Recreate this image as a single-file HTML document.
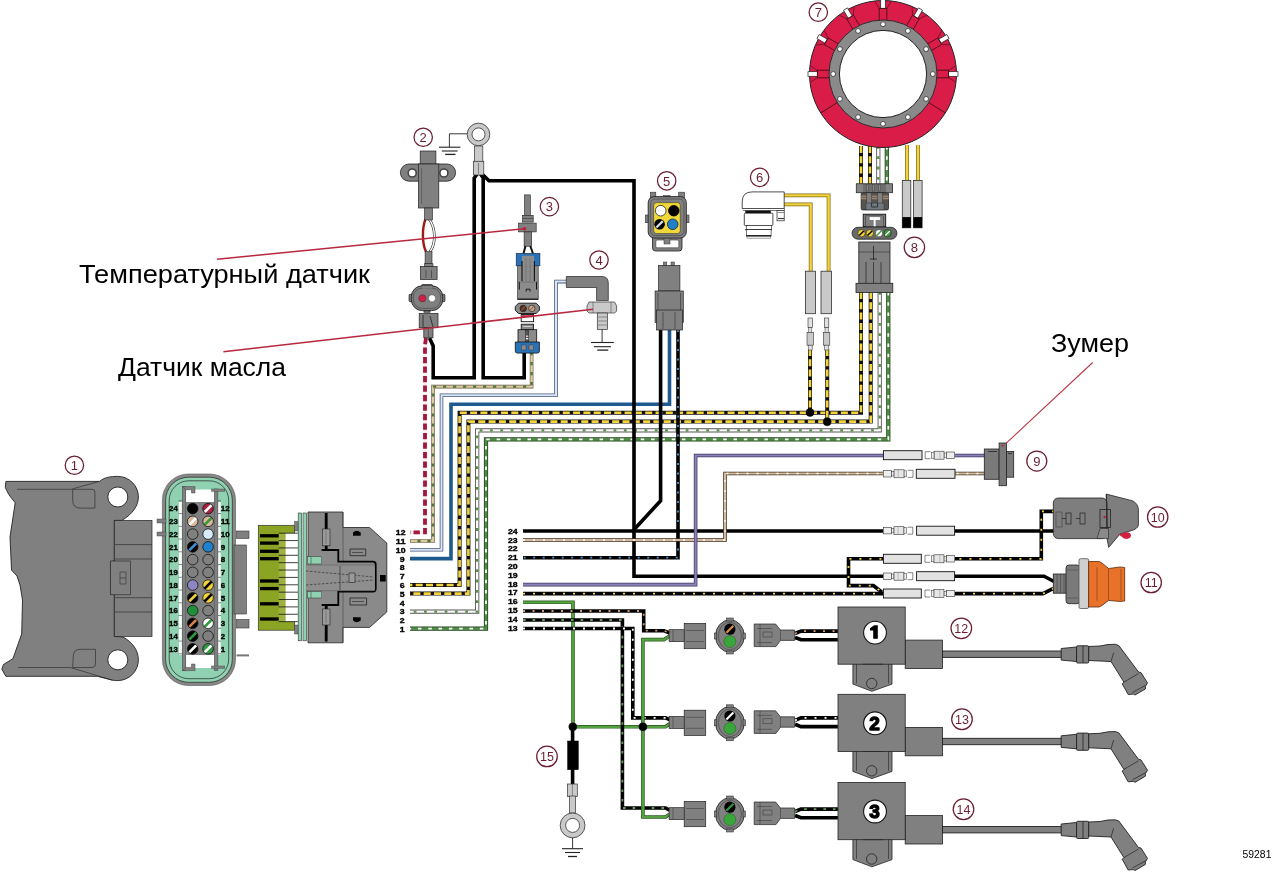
<!DOCTYPE html>
<html><head><meta charset="utf-8"><style>
html,body{margin:0;padding:0;background:#fff;}
body{width:1280px;height:872px;overflow:hidden;position:relative;font-family:"Liberation Sans",sans-serif;}
svg{position:absolute;left:0;top:0;will-change:transform;}
svg text{font-family:"Liberation Sans",sans-serif;}
</style></head><body>
<svg width="1280" height="872" viewBox="0 0 1280 872">
<polyline points="426,338 425,345 425,532.3 410,532.3" fill="none" stroke="#f6f0f0" stroke-width="3.8000000000000003" stroke-linejoin="miter" stroke-linecap="butt"/>
<polyline points="426,338 425,345 425,532.3 410,532.3" fill="none" stroke="#a5173c" stroke-width="3.8000000000000003" stroke-linejoin="miter" stroke-linecap="butt" stroke-dasharray="6.3 3.2"/>
<polyline points="531.6,352 531.6,386.6 433,386.6 433,541 410,541" fill="none" stroke="#6a5540" stroke-width="3.6" stroke-linejoin="miter" stroke-linecap="butt"/>
<polyline points="531.6,352 531.6,386.6 433,386.6 433,541 410,541" fill="none" stroke="#dccaa2" stroke-width="2.4000000000000004" stroke-linejoin="miter" stroke-linecap="butt"/>
<polyline points="531.6,352 531.6,386.6 433,386.6 433,541 410,541" fill="none" stroke="#4d7a3c" stroke-width="2.4000000000000004" stroke-linejoin="miter" stroke-linecap="butt" stroke-dasharray="3.2 6.8"/>
<polyline points="566,281.6 556,281.6 556,395.3 441.5,395.3 441.5,549.7 410,549.7" fill="none" stroke="#4a5a78" stroke-width="3.6" stroke-linejoin="miter" stroke-linecap="butt"/>
<polyline points="566,281.6 556,281.6 556,395.3 441.5,395.3 441.5,549.7 410,549.7" fill="none" stroke="#d8e6f6" stroke-width="2.0" stroke-linejoin="miter" stroke-linecap="butt"/>
<polyline points="669.5,330 669.5,404.2 451,404.2 451,558.6 410,558.6" fill="none" stroke="#1e5a8e" stroke-width="3.6" stroke-linejoin="miter" stroke-linecap="butt"/>
<polyline points="861,292 861,412.8 459.6,412.8 459.6,585 410,585" fill="none" stroke="#111" stroke-width="4.0" stroke-linejoin="miter" stroke-linecap="butt"/>
<polyline points="861,292 861,412.8 459.6,412.8 459.6,585 410,585" fill="none" stroke="#f4d43c" stroke-width="2.6" stroke-linejoin="miter" stroke-linecap="butt" stroke-dasharray="7 3.3"/>
<polyline points="870.7,292 870.7,421.6 468.4,421.6 468.4,593.6 410,593.6" fill="none" stroke="#111" stroke-width="4.0" stroke-linejoin="miter" stroke-linecap="butt"/>
<polyline points="870.7,292 870.7,421.6 468.4,421.6 468.4,593.6 410,593.6" fill="none" stroke="#f4d43c" stroke-width="2.6" stroke-linejoin="miter" stroke-linecap="butt" stroke-dasharray="7 3.3"/>
<polyline points="879.7,292 879.7,430.4 477.2,430.4 477.2,611.6 410,611.6" fill="none" stroke="#555" stroke-width="4.2" stroke-linejoin="miter" stroke-linecap="butt"/>
<polyline points="879.7,292 879.7,430.4 477.2,430.4 477.2,611.6 410,611.6" fill="none" stroke="#ffffff" stroke-width="2.4000000000000004" stroke-linejoin="miter" stroke-linecap="butt"/>
<polyline points="879.7,292 879.7,430.4 477.2,430.4 477.2,611.6 410,611.6" fill="none" stroke="#5a8f4a" stroke-width="2.4000000000000004" stroke-linejoin="miter" stroke-linecap="butt" stroke-dasharray="2.8 7.5"/>
<polyline points="888.3,292 888.3,439.4 486,439.4 486,628.6 410,628.6" fill="none" stroke="#1f3f18" stroke-width="4.2" stroke-linejoin="miter" stroke-linecap="butt"/>
<polyline points="888.3,292 888.3,439.4 486,439.4 486,628.6 410,628.6" fill="none" stroke="#4f8a46" stroke-width="2.8" stroke-linejoin="miter" stroke-linecap="butt"/>
<polyline points="888.3,292 888.3,439.4 486,439.4 486,628.6 410,628.6" fill="none" stroke="#ffffff" stroke-width="1.8" stroke-linejoin="miter" stroke-linecap="butt" stroke-dasharray="3.5 6.8"/>
<polyline points="429.5,338 433.2,346 433.2,377.7 474.2,377.7 474.2,178 478,173" fill="none" stroke="#000" stroke-width="3.6" stroke-linejoin="miter" stroke-linecap="butt"/>
<polyline points="480,173 483.2,178 483.2,377.7 524.2,377.7 524.2,352" fill="none" stroke="#000" stroke-width="3.6" stroke-linejoin="miter" stroke-linecap="butt"/>
<polyline points="482,174 489,180.8 634,180.8 634,576.2 1044,576.2 1054,581.5" fill="none" stroke="#000" stroke-width="3.6" stroke-linejoin="miter" stroke-linecap="butt"/>
<polyline points="660.6,330 660.6,500.7 634.6,529" fill="none" stroke="#000" stroke-width="3.6" stroke-linejoin="miter" stroke-linecap="butt"/>
<polyline points="678,330 678,557.7 523,557.7" fill="none" stroke="#000" stroke-width="3.6" stroke-linejoin="miter" stroke-linecap="butt"/>
<polyline points="678,330 678,557.7 523,557.7" fill="none" stroke="#4f8fcf" stroke-width="1.8" stroke-linejoin="miter" stroke-linecap="butt" stroke-dasharray="2 7.5"/>
<polyline points="523,531 1054,531" fill="none" stroke="#000" stroke-width="3.6" stroke-linejoin="miter" stroke-linecap="butt"/>
<polyline points="523,540 725,540 725,473.5 985,473.5" fill="none" stroke="#3a2a1a" stroke-width="3.6" stroke-linejoin="miter" stroke-linecap="butt"/>
<polyline points="523,540 725,540 725,473.5 985,473.5" fill="none" stroke="#d6bb9c" stroke-width="2.2" stroke-linejoin="miter" stroke-linecap="butt"/>
<polyline points="523,540 725,540 725,473.5 985,473.5" fill="none" stroke="#fff" stroke-width="1.3" stroke-linejoin="miter" stroke-linecap="butt" stroke-dasharray="2 8"/>
<polyline points="523,584.6 695.6,584.6 695.6,455.5 985,455.5" fill="none" stroke="#3a3560" stroke-width="3.6" stroke-linejoin="miter" stroke-linecap="butt"/>
<polyline points="523,584.6 695.6,584.6 695.6,455.5 985,455.5" fill="none" stroke="#8a82b8" stroke-width="2.2" stroke-linejoin="miter" stroke-linecap="butt"/>
<polyline points="523,593.6 1043,593.6 1053.4,588.4" fill="none" stroke="#000" stroke-width="3.6" stroke-linejoin="miter" stroke-linecap="butt"/>
<polyline points="523,593.6 1043,593.6 1053.4,588.4" fill="none" stroke="#f2d43a" stroke-width="1.8" stroke-linejoin="miter" stroke-linecap="butt" stroke-dasharray="2 8"/>
<polyline points="1054,511.4 1041.3,511.4 1041.3,558.8 848.5,558.8 848.5,585.6 873.4,585.6 882,592.2" fill="none" stroke="#000" stroke-width="3.6" stroke-linejoin="miter" stroke-linecap="butt"/>
<polyline points="1054,511.4 1041.3,511.4 1041.3,558.8 848.5,558.8 848.5,585.6 873.4,585.6 882,592.2" fill="none" stroke="#f2d43a" stroke-width="1.8" stroke-linejoin="miter" stroke-linecap="butt" stroke-dasharray="2 8"/>
<polyline points="523,602.3 573,602.3 573,726.8 665.6,726.8 669.5,723.8" fill="none" stroke="#2a5a22" stroke-width="3.6" stroke-linejoin="miter" stroke-linecap="butt"/>
<polyline points="523,602.3 573,602.3 573,726.8 665.6,726.8 669.5,723.8" fill="none" stroke="#55a040" stroke-width="2.2" stroke-linejoin="miter" stroke-linecap="butt"/>
<polyline points="523,611 643.7,611 643.7,630.7 664,630.7 669.5,633" fill="none" stroke="#000" stroke-width="3.6" stroke-linejoin="miter" stroke-linecap="butt"/>
<polyline points="523,611 643.7,611 643.7,630.7 664,630.7 669.5,633" fill="none" stroke="#d49a70" stroke-width="1.8" stroke-linejoin="miter" stroke-linecap="butt" stroke-dasharray="2 7.5"/>
<polyline points="523,620 622.4,620 622.4,808 665.6,808 669.5,810.3" fill="none" stroke="#000" stroke-width="3.6" stroke-linejoin="miter" stroke-linecap="butt"/>
<polyline points="523,620 622.4,620 622.4,808 665.6,808 669.5,810.3" fill="none" stroke="#6a9a62" stroke-width="1.8" stroke-linejoin="miter" stroke-linecap="butt" stroke-dasharray="2.6 7"/>
<polyline points="523,628.5 632.8,628.5 632.8,717.9 665.6,717.9 669.5,719.6" fill="none" stroke="#000" stroke-width="3.6" stroke-linejoin="miter" stroke-linecap="butt"/>
<polyline points="523,628.5 632.8,628.5 632.8,717.9 665.6,717.9 669.5,719.6" fill="none" stroke="#ffffff" stroke-width="1.8" stroke-linejoin="miter" stroke-linecap="butt" stroke-dasharray="2 8"/>
<polyline points="669.5,636 664,639.6 642.9,639.6 642.9,817 665.6,817 669.5,814.2" fill="none" stroke="#2a5a22" stroke-width="3.6" stroke-linejoin="miter" stroke-linecap="butt"/>
<polyline points="669.5,636 664,639.6 642.9,639.6 642.9,817 665.6,817 669.5,814.2" fill="none" stroke="#55a040" stroke-width="2.2" stroke-linejoin="miter" stroke-linecap="butt"/>
<polyline points="861,146 861,184" fill="none" stroke="#111" stroke-width="4.0" stroke-linejoin="miter" stroke-linecap="butt"/>
<polyline points="861,146 861,184" fill="none" stroke="#f4d43c" stroke-width="2.6" stroke-linejoin="miter" stroke-linecap="butt" stroke-dasharray="7 3.3"/>
<polyline points="870,146 870,184" fill="none" stroke="#111" stroke-width="4.0" stroke-linejoin="miter" stroke-linecap="butt"/>
<polyline points="870,146 870,184" fill="none" stroke="#f4d43c" stroke-width="2.6" stroke-linejoin="miter" stroke-linecap="butt" stroke-dasharray="7 3.3"/>
<polyline points="878.3,146 878.3,184" fill="none" stroke="#555" stroke-width="4.2" stroke-linejoin="miter" stroke-linecap="butt"/>
<polyline points="878.3,146 878.3,184" fill="none" stroke="#ffffff" stroke-width="2.4000000000000004" stroke-linejoin="miter" stroke-linecap="butt"/>
<polyline points="878.3,146 878.3,184" fill="none" stroke="#5a8f4a" stroke-width="2.4000000000000004" stroke-linejoin="miter" stroke-linecap="butt" stroke-dasharray="2.8 7.5"/>
<polyline points="886.8,146 886.8,184" fill="none" stroke="#1f3f18" stroke-width="4.2" stroke-linejoin="miter" stroke-linecap="butt"/>
<polyline points="886.8,146 886.8,184" fill="none" stroke="#4f8a46" stroke-width="2.8" stroke-linejoin="miter" stroke-linecap="butt"/>
<polyline points="886.8,146 886.8,184" fill="none" stroke="#ffffff" stroke-width="1.8" stroke-linejoin="miter" stroke-linecap="butt" stroke-dasharray="3.5 6.8"/>
<polyline points="907,145 907,182" fill="none" stroke="#7a6a18" stroke-width="3.8000000000000003" stroke-linejoin="miter" stroke-linecap="butt"/>
<polyline points="907,145 907,182" fill="none" stroke="#f4d23a" stroke-width="2.4000000000000004" stroke-linejoin="miter" stroke-linecap="butt"/>
<polyline points="918,145 918,182" fill="none" stroke="#7a6a18" stroke-width="3.8000000000000003" stroke-linejoin="miter" stroke-linecap="butt"/>
<polyline points="918,145 918,182" fill="none" stroke="#f4d23a" stroke-width="2.4000000000000004" stroke-linejoin="miter" stroke-linecap="butt"/>
<polyline points="784,195.4 828.6,195.4 828.6,272" fill="none" stroke="#7a6a18" stroke-width="3.8000000000000003" stroke-linejoin="miter" stroke-linecap="butt"/>
<polyline points="784,195.4 828.6,195.4 828.6,272" fill="none" stroke="#f4d23a" stroke-width="2.4000000000000004" stroke-linejoin="miter" stroke-linecap="butt"/>
<polyline points="784,204.4 810.7,204.4 810.7,272" fill="none" stroke="#7a6a18" stroke-width="3.8000000000000003" stroke-linejoin="miter" stroke-linecap="butt"/>
<polyline points="784,204.4 810.7,204.4 810.7,272" fill="none" stroke="#f4d23a" stroke-width="2.4000000000000004" stroke-linejoin="miter" stroke-linecap="butt"/>
<polyline points="810,349 810,412.8" fill="none" stroke="#111" stroke-width="4.0" stroke-linejoin="miter" stroke-linecap="butt"/>
<polyline points="810,349 810,412.8" fill="none" stroke="#f4d43c" stroke-width="2.6" stroke-linejoin="miter" stroke-linecap="butt" stroke-dasharray="7 3.3"/>
<polyline points="827.2,349 827.2,421.6" fill="none" stroke="#111" stroke-width="4.0" stroke-linejoin="miter" stroke-linecap="butt"/>
<polyline points="827.2,349 827.2,421.6" fill="none" stroke="#f4d43c" stroke-width="2.6" stroke-linejoin="miter" stroke-linecap="butt" stroke-dasharray="7 3.3"/>
<circle cx="810" cy="412.5" r="4" fill="#000" stroke="#000" stroke-width="0.5"/>
<circle cx="827.2" cy="421.8" r="4" fill="#000" stroke="#000" stroke-width="0.5"/>
<polyline points="572.6,726.6 572.6,786" fill="none" stroke="#000" stroke-width="3.6" stroke-linejoin="miter" stroke-linecap="butt"/>
<circle cx="572.8" cy="726.8" r="4" fill="#000" stroke="#000" stroke-width="0.5"/>
<circle cx="642.9" cy="726.8" r="4" fill="#000" stroke="#000" stroke-width="0.5"/>
<circle cx="74.4" cy="465.2" r="9.2" fill="none" stroke="#6a1e30" stroke-width="1.25"/>
<text x="74.4" y="469.9" font-size="13" text-anchor="middle" fill="#6a1e30" font-family="Liberation Sans, sans-serif">1</text>
<path d="M5.9,481.4 L99.6,481.4 C104,477.5 110,476.4 117.8,476.4 A20.6,20.6 0 0 1 138.4,497 C138.4,506 132,514 124,519 L121.9,520.4 L114.3,520.4 L114.3,636.4 L123,637 C132,642 138.4,650 138.4,659.8 A20.8,20.8 0 0 1 117.8,680.6 C115,680.6 113.5,680.4 112.5,680.2 L97.3,676.3 L5.9,676.3 L1.8,669.2 L3.5,664.5 L12.9,658.7 L21.7,634 L22.5,600 L20,585 L17,576 L11.5,570 L10,537 L15.2,502.8 L8.8,494.6 L5.3,487.6 Z" fill="#808080" stroke="#222" stroke-width="0.9" />
<circle cx="117.8" cy="497" r="10" fill="#fff" stroke="#222" stroke-width="0.9"/>
<circle cx="117.8" cy="659.8" r="10" fill="#fff" stroke="#222" stroke-width="0.9"/>
<path d="M72.7,489.3 L92,489.3 Q94.9,489.3 94.9,492 L94.9,508.1 L80,508.1 Q72.7,508.1 72.7,500 Z" fill="#808080" stroke="#222" stroke-width="0.6" />
<path d="M72.7,667.5 L92,667.5 Q95.5,667.5 95.5,664 L95.5,649.3 L80,649.3 Q73.2,649.3 73.2,657 Z" fill="#808080" stroke="#222" stroke-width="0.6" />
<line x1="17" y1="489.3" x2="72.7" y2="489.3" stroke="#222" stroke-width="0.6"/>
<line x1="72.7" y1="488.8" x2="99.6" y2="481.4" stroke="#222" stroke-width="0.6"/>
<line x1="18.2" y1="667.5" x2="70.3" y2="667.5" stroke="#222" stroke-width="0.6"/>
<line x1="70.3" y1="667.5" x2="112.5" y2="680.2" stroke="#222" stroke-width="0.6"/>
<rect x="114.3" y="520.4" width="37.7" height="116.0" rx="0" fill="#808080" stroke="#222" stroke-width="0.7"/>
<line x1="115" y1="544.6" x2="152" y2="544.6" stroke="#222" stroke-width="0.6"/>
<line x1="115" y1="559" x2="152" y2="559" stroke="#222" stroke-width="0.6"/>
<line x1="115" y1="597.7" x2="152" y2="597.7" stroke="#222" stroke-width="0.6"/>
<line x1="115" y1="612" x2="152" y2="612" stroke="#222" stroke-width="0.6"/>
<path d="M115,560.4 L110.4,562 L110.4,593 L115,594.8 Z" fill="#808080" stroke="#222" stroke-width="0.6" />
<rect x="110.4" y="561" width="20.099999999999994" height="33.799999999999955" rx="0" fill="#808080" stroke="#222" stroke-width="0.6"/>
<rect x="120" y="572" width="6" height="12" rx="0" fill="#808080" stroke="#222" stroke-width="0.5"/>
<line x1="120" y1="578" x2="126" y2="578" stroke="#222" stroke-width="0.5"/>
<rect x="162.4" y="474" width="73.1" height="211.5" rx="26" fill="#888888" stroke="#555" stroke-width="0.6"/>
<rect x="165.6" y="477.2" width="66.70000000000002" height="205.09999999999997" rx="23" fill="#8fd1b0" stroke="#222" stroke-width="0.7"/>
<rect x="169.2" y="480.8" width="59.5" height="197.90000000000003" rx="19.5" fill="none" stroke="#222" stroke-width="0.7"/>
<rect x="236.5" y="531" width="12.5" height="7.399999999999977" rx="0" fill="#808080" stroke="#333" stroke-width="0.6"/>
<rect x="236.5" y="619.6" width="12.5" height="8.399999999999977" rx="0" fill="#808080" stroke="#333" stroke-width="0.6"/>
<rect x="234" y="545" width="12.300000000000011" height="69" rx="0" fill="#808080" stroke="#333" stroke-width="0.6"/>
<line x1="236.5" y1="655.4" x2="249" y2="655.4" stroke="#777" stroke-width="2"/>
<rect x="157" y="519" width="9" height="4" rx="0" fill="#808080" stroke="#333" stroke-width="0.4"/>
<rect x="157" y="532" width="9" height="4" rx="0" fill="#808080" stroke="#333" stroke-width="0.4"/>
<rect x="178.9" y="502" width="2.9000000000000057" height="153" rx="0" fill="#fff" stroke="none" stroke-width="0"/>
<rect x="217.9" y="502" width="2.799999999999983" height="153" rx="0" fill="#fff" stroke="none" stroke-width="0"/>
<line x1="178.5" y1="500.8" x2="182" y2="500.8" stroke="#333" stroke-width="0.6"/>
<line x1="217.5" y1="500.8" x2="221" y2="500.8" stroke="#333" stroke-width="0.6"/>
<line x1="178.5" y1="513.55" x2="182" y2="513.55" stroke="#333" stroke-width="0.6"/>
<line x1="217.5" y1="513.55" x2="221" y2="513.55" stroke="#333" stroke-width="0.6"/>
<line x1="178.5" y1="526.3" x2="182" y2="526.3" stroke="#333" stroke-width="0.6"/>
<line x1="217.5" y1="526.3" x2="221" y2="526.3" stroke="#333" stroke-width="0.6"/>
<line x1="178.5" y1="539.05" x2="182" y2="539.05" stroke="#333" stroke-width="0.6"/>
<line x1="217.5" y1="539.05" x2="221" y2="539.05" stroke="#333" stroke-width="0.6"/>
<line x1="178.5" y1="551.8" x2="182" y2="551.8" stroke="#333" stroke-width="0.6"/>
<line x1="217.5" y1="551.8" x2="221" y2="551.8" stroke="#333" stroke-width="0.6"/>
<line x1="178.5" y1="564.55" x2="182" y2="564.55" stroke="#333" stroke-width="0.6"/>
<line x1="217.5" y1="564.55" x2="221" y2="564.55" stroke="#333" stroke-width="0.6"/>
<line x1="178.5" y1="577.3" x2="182" y2="577.3" stroke="#333" stroke-width="0.6"/>
<line x1="217.5" y1="577.3" x2="221" y2="577.3" stroke="#333" stroke-width="0.6"/>
<line x1="178.5" y1="590.05" x2="182" y2="590.05" stroke="#333" stroke-width="0.6"/>
<line x1="217.5" y1="590.05" x2="221" y2="590.05" stroke="#333" stroke-width="0.6"/>
<line x1="178.5" y1="602.8" x2="182" y2="602.8" stroke="#333" stroke-width="0.6"/>
<line x1="217.5" y1="602.8" x2="221" y2="602.8" stroke="#333" stroke-width="0.6"/>
<line x1="178.5" y1="615.55" x2="182" y2="615.55" stroke="#333" stroke-width="0.6"/>
<line x1="217.5" y1="615.55" x2="221" y2="615.55" stroke="#333" stroke-width="0.6"/>
<line x1="178.5" y1="628.3" x2="182" y2="628.3" stroke="#333" stroke-width="0.6"/>
<line x1="217.5" y1="628.3" x2="221" y2="628.3" stroke="#333" stroke-width="0.6"/>
<line x1="178.5" y1="641.05" x2="182" y2="641.05" stroke="#333" stroke-width="0.6"/>
<line x1="217.5" y1="641.05" x2="221" y2="641.05" stroke="#333" stroke-width="0.6"/>
<line x1="178.5" y1="653.8" x2="182" y2="653.8" stroke="#333" stroke-width="0.6"/>
<line x1="217.5" y1="653.8" x2="221" y2="653.8" stroke="#333" stroke-width="0.6"/>
<rect x="185.8" y="489.5" width="28.599999999999994" height="12.5" rx="0" fill="#fff" stroke="none" stroke-width="0"/>
<rect x="185.8" y="655" width="28.599999999999994" height="13" rx="0" fill="#fff" stroke="none" stroke-width="0"/>
<rect x="185.8" y="502" width="28.599999999999994" height="153" rx="0" fill="#808080" stroke="none" stroke-width="0"/>
<rect x="182.3" y="486.6" width="3.5" height="184.0" rx="0" fill="#808080" stroke="#444" stroke-width="0.5"/>
<rect x="214.4" y="489" width="3.5" height="181.60000000000002" rx="0" fill="#808080" stroke="#444" stroke-width="0.5"/>
<path d="M182.3,486.6 L195,486.6 L195,493 L191.5,493 L191.5,489.8 L185.8,489.8 Z" fill="#808080" stroke="#444" stroke-width="0.5" />
<rect x="211.6" y="489" width="13.200000000000017" height="2.3999999999999773" rx="0" fill="#808080" stroke="#444" stroke-width="0.4"/>
<path d="M182.3,670.6 L195,670.6 L195,664 L191.5,664 L191.5,667.4 L185.8,667.4 Z" fill="#808080" stroke="#444" stroke-width="0.5" />
<rect x="211.6" y="666" width="13.200000000000017" height="2.3999999999999773" rx="0" fill="#808080" stroke="#444" stroke-width="0.4"/>
<defs><clipPath id="pc"><circle cx="0" cy="0" r="5.3"/></clipPath></defs>
<g transform="translate(192.7,508.6)">
<circle r="5.3" fill="#000"/>
<circle r="5.3" fill="none" stroke="#111" stroke-width="0.8"/></g>
<g transform="translate(208.1,508.6)">
<circle r="5.3" fill="#a8213f"/>
<line x1="-6" y1="6" x2="6" y2="-6" stroke="#fff" stroke-width="2.6" clip-path="url(#pc)"/>
<circle r="5.3" fill="none" stroke="#111" stroke-width="0.8"/></g>
<text x="177.8" y="511.40000000000003" font-size="7.8" font-weight="bold" text-anchor="end" textLength="8.80" lengthAdjust="spacingAndGlyphs" fill="#000" stroke="#000" stroke-width="0.35">24</text>
<text x="220.8" y="511.40000000000003" font-size="7.8" font-weight="bold" text-anchor="start" textLength="8.80" lengthAdjust="spacingAndGlyphs" fill="#000" stroke="#000" stroke-width="0.35">12</text>
<g transform="translate(192.7,521.35)">
<circle r="5.3" fill="#d9b89e"/>
<line x1="-6" y1="6" x2="6" y2="-6" stroke="#fff" stroke-width="2.6" clip-path="url(#pc)"/>
<circle r="5.3" fill="none" stroke="#111" stroke-width="0.8"/></g>
<g transform="translate(208.1,521.35)">
<circle r="5.3" fill="#d9b89e"/>
<line x1="-6" y1="6" x2="6" y2="-6" stroke="#3a9a3a" stroke-width="2.6" clip-path="url(#pc)"/>
<circle r="5.3" fill="none" stroke="#111" stroke-width="0.8"/></g>
<text x="177.8" y="524.15" font-size="7.8" font-weight="bold" text-anchor="end" textLength="8.80" lengthAdjust="spacingAndGlyphs" fill="#000" stroke="#000" stroke-width="0.35">23</text>
<text x="220.8" y="524.15" font-size="7.8" font-weight="bold" text-anchor="start" textLength="8.80" lengthAdjust="spacingAndGlyphs" fill="#000" stroke="#000" stroke-width="0.35">11</text>
<g transform="translate(192.7,534.1)">
<circle r="5.3" fill="#808080"/>
<circle r="5.3" fill="none" stroke="#111" stroke-width="0.8"/></g>
<g transform="translate(208.1,534.1)">
<circle r="5.3" fill="#d6eaf8"/>
<circle r="5.3" fill="none" stroke="#111" stroke-width="0.8"/></g>
<text x="177.8" y="536.9" font-size="7.8" font-weight="bold" text-anchor="end" textLength="8.80" lengthAdjust="spacingAndGlyphs" fill="#000" stroke="#000" stroke-width="0.35">22</text>
<text x="220.8" y="536.9" font-size="7.8" font-weight="bold" text-anchor="start" textLength="8.80" lengthAdjust="spacingAndGlyphs" fill="#000" stroke="#000" stroke-width="0.35">10</text>
<g transform="translate(192.7,546.85)">
<circle r="5.3" fill="#000"/>
<line x1="-6" y1="6" x2="6" y2="-6" stroke="#3f8fd8" stroke-width="2.6" clip-path="url(#pc)"/>
<circle r="5.3" fill="none" stroke="#111" stroke-width="0.8"/></g>
<g transform="translate(208.1,546.85)">
<circle r="5.3" fill="#1f80d0"/>
<circle r="5.3" fill="none" stroke="#111" stroke-width="0.8"/></g>
<text x="177.8" y="549.65" font-size="7.8" font-weight="bold" text-anchor="end" textLength="8.80" lengthAdjust="spacingAndGlyphs" fill="#000" stroke="#000" stroke-width="0.35">21</text>
<text x="220.8" y="549.65" font-size="7.8" font-weight="bold" text-anchor="start" textLength="4.40" lengthAdjust="spacingAndGlyphs" fill="#000" stroke="#000" stroke-width="0.35">9</text>
<g transform="translate(192.7,559.6)">
<circle r="5.3" fill="#808080"/>
<circle r="5.3" fill="none" stroke="#111" stroke-width="0.8"/></g>
<g transform="translate(208.1,559.6)">
<circle r="5.3" fill="#808080"/>
<circle r="5.3" fill="none" stroke="#111" stroke-width="0.8"/></g>
<text x="177.8" y="562.4" font-size="7.8" font-weight="bold" text-anchor="end" textLength="8.80" lengthAdjust="spacingAndGlyphs" fill="#000" stroke="#000" stroke-width="0.35">20</text>
<text x="220.8" y="562.4" font-size="7.8" font-weight="bold" text-anchor="start" textLength="4.40" lengthAdjust="spacingAndGlyphs" fill="#000" stroke="#000" stroke-width="0.35">8</text>
<g transform="translate(192.7,572.35)">
<circle r="5.3" fill="#808080"/>
<circle r="5.3" fill="none" stroke="#111" stroke-width="0.8"/></g>
<g transform="translate(208.1,572.35)">
<circle r="5.3" fill="#808080"/>
<circle r="5.3" fill="none" stroke="#111" stroke-width="0.8"/></g>
<text x="177.8" y="575.15" font-size="7.8" font-weight="bold" text-anchor="end" textLength="8.80" lengthAdjust="spacingAndGlyphs" fill="#000" stroke="#000" stroke-width="0.35">19</text>
<text x="220.8" y="575.15" font-size="7.8" font-weight="bold" text-anchor="start" textLength="4.40" lengthAdjust="spacingAndGlyphs" fill="#000" stroke="#000" stroke-width="0.35">7</text>
<g transform="translate(192.7,585.1)">
<circle r="5.3" fill="#8e86c2"/>
<circle r="5.3" fill="none" stroke="#111" stroke-width="0.8"/></g>
<g transform="translate(208.1,585.1)">
<circle r="5.3" fill="#f3d43a"/>
<line x1="-6" y1="6" x2="6" y2="-6" stroke="#000" stroke-width="2.6" clip-path="url(#pc)"/>
<circle r="5.3" fill="none" stroke="#111" stroke-width="0.8"/></g>
<text x="177.8" y="587.9" font-size="7.8" font-weight="bold" text-anchor="end" textLength="8.80" lengthAdjust="spacingAndGlyphs" fill="#000" stroke="#000" stroke-width="0.35">18</text>
<text x="220.8" y="587.9" font-size="7.8" font-weight="bold" text-anchor="start" textLength="4.40" lengthAdjust="spacingAndGlyphs" fill="#000" stroke="#000" stroke-width="0.35">6</text>
<g transform="translate(192.7,597.85)">
<circle r="5.3" fill="#000"/>
<line x1="-6" y1="6" x2="6" y2="-6" stroke="#f3d43a" stroke-width="2.6" clip-path="url(#pc)"/>
<circle r="5.3" fill="none" stroke="#111" stroke-width="0.8"/></g>
<g transform="translate(208.1,597.85)">
<circle r="5.3" fill="#f3d43a"/>
<line x1="-6" y1="6" x2="6" y2="-6" stroke="#000" stroke-width="2.6" clip-path="url(#pc)"/>
<circle r="5.3" fill="none" stroke="#111" stroke-width="0.8"/></g>
<text x="177.8" y="600.65" font-size="7.8" font-weight="bold" text-anchor="end" textLength="8.80" lengthAdjust="spacingAndGlyphs" fill="#000" stroke="#000" stroke-width="0.35">17</text>
<text x="220.8" y="600.65" font-size="7.8" font-weight="bold" text-anchor="start" textLength="4.40" lengthAdjust="spacingAndGlyphs" fill="#000" stroke="#000" stroke-width="0.35">5</text>
<g transform="translate(192.7,610.6)">
<circle r="5.3" fill="#1f8f3a"/>
<circle r="5.3" fill="none" stroke="#111" stroke-width="0.8"/></g>
<g transform="translate(208.1,610.6)">
<circle r="5.3" fill="#808080"/>
<circle r="5.3" fill="none" stroke="#111" stroke-width="0.8"/></g>
<text x="177.8" y="613.4" font-size="7.8" font-weight="bold" text-anchor="end" textLength="8.80" lengthAdjust="spacingAndGlyphs" fill="#000" stroke="#000" stroke-width="0.35">16</text>
<text x="220.8" y="613.4" font-size="7.8" font-weight="bold" text-anchor="start" textLength="4.40" lengthAdjust="spacingAndGlyphs" fill="#000" stroke="#000" stroke-width="0.35">4</text>
<g transform="translate(192.7,623.35)">
<circle r="5.3" fill="#000"/>
<line x1="-6" y1="6" x2="6" y2="-6" stroke="#d8804a" stroke-width="2.6" clip-path="url(#pc)"/>
<circle r="5.3" fill="none" stroke="#111" stroke-width="0.8"/></g>
<g transform="translate(208.1,623.35)">
<circle r="5.3" fill="#fff"/>
<line x1="-6" y1="6" x2="6" y2="-6" stroke="#2f9a3f" stroke-width="2.6" clip-path="url(#pc)"/>
<circle r="5.3" fill="none" stroke="#111" stroke-width="0.8"/></g>
<text x="177.8" y="626.15" font-size="7.8" font-weight="bold" text-anchor="end" textLength="8.80" lengthAdjust="spacingAndGlyphs" fill="#000" stroke="#000" stroke-width="0.35">15</text>
<text x="220.8" y="626.15" font-size="7.8" font-weight="bold" text-anchor="start" textLength="4.40" lengthAdjust="spacingAndGlyphs" fill="#000" stroke="#000" stroke-width="0.35">3</text>
<g transform="translate(192.7,636.1)">
<circle r="5.3" fill="#000"/>
<line x1="-6" y1="6" x2="6" y2="-6" stroke="#2f9a3f" stroke-width="2.6" clip-path="url(#pc)"/>
<circle r="5.3" fill="none" stroke="#111" stroke-width="0.8"/></g>
<g transform="translate(208.1,636.1)">
<circle r="5.3" fill="#808080"/>
<circle r="5.3" fill="none" stroke="#111" stroke-width="0.8"/></g>
<text x="177.8" y="638.9" font-size="7.8" font-weight="bold" text-anchor="end" textLength="8.80" lengthAdjust="spacingAndGlyphs" fill="#000" stroke="#000" stroke-width="0.35">14</text>
<text x="220.8" y="638.9" font-size="7.8" font-weight="bold" text-anchor="start" textLength="4.40" lengthAdjust="spacingAndGlyphs" fill="#000" stroke="#000" stroke-width="0.35">2</text>
<g transform="translate(192.7,648.85)">
<circle r="5.3" fill="#000"/>
<line x1="-6" y1="6" x2="6" y2="-6" stroke="#fff" stroke-width="2.6" clip-path="url(#pc)"/>
<circle r="5.3" fill="none" stroke="#111" stroke-width="0.8"/></g>
<g transform="translate(208.1,648.85)">
<circle r="5.3" fill="#2f9a3f"/>
<line x1="-6" y1="6" x2="6" y2="-6" stroke="#fff" stroke-width="2.6" clip-path="url(#pc)"/>
<circle r="5.3" fill="none" stroke="#111" stroke-width="0.8"/></g>
<text x="177.8" y="651.65" font-size="7.8" font-weight="bold" text-anchor="end" textLength="8.80" lengthAdjust="spacingAndGlyphs" fill="#000" stroke="#000" stroke-width="0.35">13</text>
<text x="220.8" y="651.65" font-size="7.8" font-weight="bold" text-anchor="start" textLength="4.40" lengthAdjust="spacingAndGlyphs" fill="#000" stroke="#000" stroke-width="0.35">1</text>
<rect x="258.3" y="525.3" width="36.30000000000001" height="104.90000000000009" rx="0" fill="#8ca424" stroke="#333" stroke-width="0.7"/>
<rect x="278.7" y="533.2" width="6.900000000000034" height="88.39999999999998" rx="0" fill="#a0b040" stroke="none" stroke-width="0"/>
<rect x="285.6" y="533.2" width="12.299999999999955" height="88.39999999999998" rx="0" fill="#fff" stroke="none" stroke-width="0"/>
<rect x="260" y="534.15" width="18.69999999999999" height="3.2999999999999545" rx="0" fill="#000" stroke="none" stroke-width="0"/>
<rect x="260" y="541.45" width="18.69999999999999" height="3.2999999999999545" rx="0" fill="#000" stroke="none" stroke-width="0"/>
<rect x="260" y="549.65" width="18.69999999999999" height="3.2999999999999545" rx="0" fill="#000" stroke="none" stroke-width="0"/>
<rect x="260" y="557.0500000000001" width="18.69999999999999" height="3.2999999999999545" rx="0" fill="#000" stroke="none" stroke-width="0"/>
<rect x="260" y="579.35" width="18.69999999999999" height="3.2999999999999545" rx="0" fill="#000" stroke="none" stroke-width="0"/>
<rect x="260" y="586.95" width="18.69999999999999" height="3.2999999999999545" rx="0" fill="#000" stroke="none" stroke-width="0"/>
<rect x="260" y="602.15" width="18.69999999999999" height="3.2999999999999545" rx="0" fill="#000" stroke="none" stroke-width="0"/>
<rect x="260" y="617.35" width="18.69999999999999" height="3.2999999999999545" rx="0" fill="#000" stroke="none" stroke-width="0"/>
<line x1="278.7" y1="533.2" x2="297.9" y2="533.2" stroke="#111" stroke-width="0.8"/>
<line x1="278.7" y1="540.57" x2="297.9" y2="540.57" stroke="#111" stroke-width="0.8"/>
<line x1="278.7" y1="547.94" x2="297.9" y2="547.94" stroke="#111" stroke-width="0.8"/>
<line x1="278.7" y1="555.31" x2="297.9" y2="555.31" stroke="#111" stroke-width="0.8"/>
<line x1="278.7" y1="562.68" x2="297.9" y2="562.68" stroke="#111" stroke-width="0.8"/>
<line x1="278.7" y1="570.05" x2="297.9" y2="570.05" stroke="#111" stroke-width="0.8"/>
<line x1="278.7" y1="577.42" x2="297.9" y2="577.42" stroke="#111" stroke-width="0.8"/>
<line x1="278.7" y1="584.79" x2="297.9" y2="584.79" stroke="#111" stroke-width="0.8"/>
<line x1="278.7" y1="592.16" x2="297.9" y2="592.16" stroke="#111" stroke-width="0.8"/>
<line x1="278.7" y1="599.53" x2="297.9" y2="599.53" stroke="#111" stroke-width="0.8"/>
<line x1="278.7" y1="606.9" x2="297.9" y2="606.9" stroke="#111" stroke-width="0.8"/>
<line x1="278.7" y1="614.27" x2="297.9" y2="614.27" stroke="#111" stroke-width="0.8"/>
<line x1="278.7" y1="621.64" x2="297.9" y2="621.64" stroke="#111" stroke-width="0.8"/>
<rect x="294.5" y="521.5" width="3.6999999999999886" height="9.5" rx="0" fill="#808080" stroke="#333" stroke-width="0.4"/>
<rect x="294.5" y="625" width="3.6999999999999886" height="9" rx="0" fill="#808080" stroke="#333" stroke-width="0.4"/>
<rect x="298.2" y="513" width="3.400000000000034" height="127.79999999999995" rx="0" fill="#8fd1b0" stroke="#333" stroke-width="0.6"/>
<rect x="303" y="513" width="3.5" height="127.79999999999995" rx="0" fill="#8fd1b0" stroke="#333" stroke-width="0.6"/>
<path d="M308,512 L343,512 L343,527.5 L369.6,527.5 L386.8,543 L386.8,611.9 L369.6,627.4 L343,627.4 L343,642.8 L308,642.8 Z" fill="#8a8a8a" stroke="#222" stroke-width="0.8" />
<line x1="343" y1="512" x2="343" y2="642.8" stroke="#444" stroke-width="0.6"/>
<rect x="324.8" y="513" width="2.8000000000000114" height="37" rx="0" fill="#000" stroke="none" stroke-width="0"/>
<rect x="324.8" y="605" width="2.8000000000000114" height="36.5" rx="0" fill="#000" stroke="none" stroke-width="0"/>
<rect x="322.5" y="529" width="7.5" height="16.799999999999955" rx="0" fill="#9a9a9a" stroke="#222" stroke-width="0.6"/>
<rect x="322.5" y="609" width="7.5" height="16" rx="0" fill="#9a9a9a" stroke="#222" stroke-width="0.6"/>
<line x1="326" y1="531" x2="326" y2="544" stroke="#555" stroke-width="0.5"/>
<line x1="326" y1="611" x2="326" y2="623" stroke="#555" stroke-width="0.5"/>
<rect x="307.5" y="556.6" width="14.100000000000023" height="7.399999999999977" rx="0" fill="#8fd1b0" stroke="#333" stroke-width="0.5"/>
<rect x="307.5" y="591.5" width="14.100000000000023" height="6.5" rx="0" fill="#8fd1b0" stroke="#333" stroke-width="0.5"/>
<line x1="311" y1="556.6" x2="311" y2="564" stroke="#333" stroke-width="0.5"/>
<line x1="311" y1="591.5" x2="311" y2="598" stroke="#333" stroke-width="0.5"/>
<path d="M321.6,550 L338.3,550 L338.3,561.6 L373,561.6 Q375.7,561.6 375.7,564.3 L375.7,588.8 Q375.7,591.5 373,591.5 L338.3,591.5 L338.3,605 L321.6,605 Z" fill="#8a8a8a" stroke="none" stroke-width="0" />
<polyline points="321.6,550 338.3,550 338.3,561.6 373,561.6" fill="none" stroke="#000" stroke-width="1.8"/>
<path d="M373,561.6 Q375.7,561.6 375.7,564.3 L375.7,588.8 Q375.7,591.5 373,591.5 L338.3,591.5 L338.3,605 L321.6,605" fill="none" stroke="#000" stroke-width="1.8"/>
<rect x="305.8" y="565" width="69.0" height="25.700000000000045" rx="0" fill="#8e8e8e" stroke="none" stroke-width="0"/>
<line x1="305.8" y1="565" x2="374.8" y2="565" stroke="#555" stroke-width="0.5"/>
<line x1="305.8" y1="590.7" x2="374.8" y2="590.7" stroke="#555" stroke-width="0.5"/>
<line x1="306" y1="571" x2="374" y2="577" stroke="#222" stroke-width="0.6" stroke-dasharray="2.5 1.5"/>
<line x1="306" y1="585" x2="374" y2="580" stroke="#222" stroke-width="0.6" stroke-dasharray="2.5 1.5"/>
<line x1="340" y1="566" x2="340" y2="590" stroke="#222" stroke-width="0.6"/>
<rect x="349" y="573" width="6" height="9.399999999999977" rx="0" fill="#999" stroke="#222" stroke-width="0.6"/>
<path d="M350,549 L365.7,549 L365.7,555.7 L350,555.7 Z" fill="#8a8a8a" stroke="#222" stroke-width="0.8" />
<line x1="352" y1="552.5" x2="363" y2="552.5" stroke="#222" stroke-width="0.6"/>
<path d="M350,598 L366.6,598 L366.6,605 L350,605 Z" fill="#8a8a8a" stroke="#222" stroke-width="0.8" />
<line x1="352" y1="601.5" x2="364" y2="601.5" stroke="#222" stroke-width="0.6"/>
<path d="M353,535.8 L353,532.5 Q356.8,529 360.7,532.5 L360.7,535.8 Z" fill="#000" stroke="none" stroke-width="0" />
<path d="M353,617.3 L360.7,617.3 L360.7,620.5 Q356.8,624 353,620.5 Z" fill="#000" stroke="none" stroke-width="0" />
<rect x="380" y="575" width="5.699999999999989" height="6.5" rx="0" fill="#000" stroke="none" stroke-width="0"/>
<text x="405.5" y="535.0999999999999" font-size="8" font-weight="bold" text-anchor="end" textLength="9.70" lengthAdjust="spacingAndGlyphs" fill="#000" stroke="#000" stroke-width="0.35">12</text>
<text x="405.5" y="543.8999999999999" font-size="8" font-weight="bold" text-anchor="end" textLength="9.70" lengthAdjust="spacingAndGlyphs" fill="#000" stroke="#000" stroke-width="0.35">11</text>
<text x="405.5" y="552.6999999999999" font-size="8" font-weight="bold" text-anchor="end" textLength="9.70" lengthAdjust="spacingAndGlyphs" fill="#000" stroke="#000" stroke-width="0.35">10</text>
<text x="404.6" y="561.4999999999999" font-size="8" font-weight="bold" text-anchor="end" textLength="4.85" lengthAdjust="spacingAndGlyphs" fill="#000" stroke="#000" stroke-width="0.35">9</text>
<text x="404.6" y="570.3" font-size="8" font-weight="bold" text-anchor="end" textLength="4.85" lengthAdjust="spacingAndGlyphs" fill="#000" stroke="#000" stroke-width="0.35">8</text>
<text x="404.6" y="579.0999999999999" font-size="8" font-weight="bold" text-anchor="end" textLength="4.85" lengthAdjust="spacingAndGlyphs" fill="#000" stroke="#000" stroke-width="0.35">7</text>
<text x="404.6" y="587.8999999999999" font-size="8" font-weight="bold" text-anchor="end" textLength="4.85" lengthAdjust="spacingAndGlyphs" fill="#000" stroke="#000" stroke-width="0.35">6</text>
<text x="404.6" y="596.6999999999999" font-size="8" font-weight="bold" text-anchor="end" textLength="4.85" lengthAdjust="spacingAndGlyphs" fill="#000" stroke="#000" stroke-width="0.35">5</text>
<text x="404.6" y="605.4999999999999" font-size="8" font-weight="bold" text-anchor="end" textLength="4.85" lengthAdjust="spacingAndGlyphs" fill="#000" stroke="#000" stroke-width="0.35">4</text>
<text x="404.6" y="614.3" font-size="8" font-weight="bold" text-anchor="end" textLength="4.85" lengthAdjust="spacingAndGlyphs" fill="#000" stroke="#000" stroke-width="0.35">3</text>
<text x="404.6" y="623.0999999999999" font-size="8" font-weight="bold" text-anchor="end" textLength="4.85" lengthAdjust="spacingAndGlyphs" fill="#000" stroke="#000" stroke-width="0.35">2</text>
<text x="404.6" y="631.8999999999999" font-size="8" font-weight="bold" text-anchor="end" textLength="4.85" lengthAdjust="spacingAndGlyphs" fill="#000" stroke="#000" stroke-width="0.35">1</text>
<text x="517.7" y="533.8" font-size="8" font-weight="bold" text-anchor="end" textLength="9.70" lengthAdjust="spacingAndGlyphs" fill="#000" stroke="#000" stroke-width="0.35">24</text>
<text x="517.7" y="542.5999999999999" font-size="8" font-weight="bold" text-anchor="end" textLength="9.70" lengthAdjust="spacingAndGlyphs" fill="#000" stroke="#000" stroke-width="0.35">23</text>
<text x="517.7" y="551.4" font-size="8" font-weight="bold" text-anchor="end" textLength="9.70" lengthAdjust="spacingAndGlyphs" fill="#000" stroke="#000" stroke-width="0.35">22</text>
<text x="517.7" y="560.1999999999999" font-size="8" font-weight="bold" text-anchor="end" textLength="9.70" lengthAdjust="spacingAndGlyphs" fill="#000" stroke="#000" stroke-width="0.35">21</text>
<text x="517.7" y="569.0" font-size="8" font-weight="bold" text-anchor="end" textLength="9.70" lengthAdjust="spacingAndGlyphs" fill="#000" stroke="#000" stroke-width="0.35">20</text>
<text x="517.7" y="577.8" font-size="8" font-weight="bold" text-anchor="end" textLength="9.70" lengthAdjust="spacingAndGlyphs" fill="#000" stroke="#000" stroke-width="0.35">19</text>
<text x="517.7" y="586.5999999999999" font-size="8" font-weight="bold" text-anchor="end" textLength="9.70" lengthAdjust="spacingAndGlyphs" fill="#000" stroke="#000" stroke-width="0.35">18</text>
<text x="517.7" y="595.4" font-size="8" font-weight="bold" text-anchor="end" textLength="9.70" lengthAdjust="spacingAndGlyphs" fill="#000" stroke="#000" stroke-width="0.35">17</text>
<text x="517.7" y="604.1999999999999" font-size="8" font-weight="bold" text-anchor="end" textLength="9.70" lengthAdjust="spacingAndGlyphs" fill="#000" stroke="#000" stroke-width="0.35">16</text>
<text x="517.7" y="613.0" font-size="8" font-weight="bold" text-anchor="end" textLength="9.70" lengthAdjust="spacingAndGlyphs" fill="#000" stroke="#000" stroke-width="0.35">15</text>
<text x="517.7" y="621.8" font-size="8" font-weight="bold" text-anchor="end" textLength="9.70" lengthAdjust="spacingAndGlyphs" fill="#000" stroke="#000" stroke-width="0.35">14</text>
<text x="517.7" y="630.5999999999999" font-size="8" font-weight="bold" text-anchor="end" textLength="9.70" lengthAdjust="spacingAndGlyphs" fill="#000" stroke="#000" stroke-width="0.35">13</text>
<text x="79" y="282.8" font-size="25.7" textLength="291" lengthAdjust="spacingAndGlyphs" fill="#000">Температурный датчик</text>
<text x="118" y="376.3" font-size="25.7" textLength="168" lengthAdjust="spacingAndGlyphs" fill="#000">Датчик масла</text>
<text x="1051" y="351.7" font-size="25.7" textLength="78" lengthAdjust="spacingAndGlyphs" fill="#000">Зумер</text>
<text x="1242.6" y="858.2" font-size="11.3" textLength="28.8" lengthAdjust="spacingAndGlyphs" fill="#000">59281</text>
<circle cx="423.2" cy="137.2" r="9.2" fill="none" stroke="#6a1e30" stroke-width="1.25"/>
<text x="423.2" y="141.9" font-size="13" text-anchor="middle" fill="#6a1e30" font-family="Liberation Sans, sans-serif">2</text>
<path d="M425.5,219 C422,228 422,244 426,251.6" fill="none" stroke="#a01818" stroke-width="2.4"/>
<path d="M429,219 C436,228 436,244 430,251.6" fill="none" stroke="#222" stroke-width="2.6"/>
<path d="M429,219 C436,228 436,244 430,251.6" fill="none" stroke="#fff" stroke-width="1.4"/>
<rect x="420.2" y="151" width="15.699999999999989" height="14" rx="0" fill="#808080" stroke="#222" stroke-width="0.7"/>
<path d="M409,164 L447,164 A8.6,8.6 0 0 1 447,181.2 L409,181.2 A8.6,8.6 0 0 1 409,164 Z" fill="#808080" stroke="#222" stroke-width="0.8" />
<circle cx="412.2" cy="173" r="4" fill="#fff" stroke="#444" stroke-width="1.6"/>
<circle cx="443.9" cy="173" r="4" fill="#fff" stroke="#444" stroke-width="1.6"/>
<rect x="418.4" y="164" width="20.400000000000034" height="44" rx="0" fill="#808080" stroke="#222" stroke-width="0.7"/>
<line x1="421.5" y1="168" x2="421.5" y2="204" stroke="#333" stroke-width="0.4"/>
<rect x="424.5" y="208" width="8.0" height="12" rx="0" fill="#808080" stroke="#222" stroke-width="0.6"/>
<rect x="425.1" y="251.6" width="6.899999999999977" height="12.400000000000006" rx="0" fill="#808080" stroke="#222" stroke-width="0.6"/>
<rect x="424.5" y="263.7" width="8.5" height="3.3000000000000114" rx="0" fill="#808080" stroke="#222" stroke-width="0.6"/>
<rect x="420.5" y="266.5" width="16.600000000000023" height="13.0" rx="0" fill="#808080" stroke="#222" stroke-width="0.7"/>
<line x1="426" y1="270" x2="426" y2="278" stroke="#222" stroke-width="0.5"/>
<line x1="431.5" y1="270" x2="431.5" y2="278" stroke="#222" stroke-width="0.5"/>
<rect x="409.1" y="294.3" width="35.799999999999955" height="7.399999999999977" rx="1" fill="#808080" stroke="#222" stroke-width="0.8"/>
<rect x="421.5" y="284.6" width="11.0" height="4.399999999999977" rx="1" fill="#808080" stroke="#222" stroke-width="0.8"/>
<rect x="424" y="308" width="6" height="4.199999999999989" rx="0" fill="#808080" stroke="#222" stroke-width="0.8"/>
<rect x="411.3" y="285.8" width="31.399999999999977" height="24.80000000000001" rx="11" fill="#808080" stroke="#222" stroke-width="0.9"/>
<rect x="413.3" y="288" width="27.399999999999977" height="20.399999999999977" rx="9" fill="none" stroke="#333" stroke-width="0.5"/>
<rect x="422" y="285.9" width="10" height="2.6000000000000227" rx="0" fill="#808080" stroke="none" stroke-width="0"/>
<circle cx="422.4" cy="298.3" r="3.6" fill="#d0204a" stroke="#333" stroke-width="0.5"/>
<circle cx="432" cy="298.3" r="3.6" fill="#fff" stroke="#333" stroke-width="0.5"/>
<rect x="419.2" y="313.5" width="18.80000000000001" height="14.199999999999989" rx="0" fill="#808080" stroke="#222" stroke-width="0.7"/>
<line x1="423" y1="315" x2="423" y2="327" stroke="#222" stroke-width="0.8"/>
<line x1="430" y1="316" x2="433" y2="327" stroke="#222" stroke-width="0.8"/>
<rect x="423.8" y="327.7" width="9.199999999999989" height="10.100000000000023" rx="0" fill="#808080" stroke="#222" stroke-width="0.7"/>
<line x1="428.4" y1="329" x2="428.4" y2="337" stroke="#333" stroke-width="0.5"/>
<line x1="467.2" y1="133.8" x2="449.4" y2="133.8" stroke="#222" stroke-width="0.9"/>
<line x1="449.4" y1="133.8" x2="449.4" y2="147.2" stroke="#222" stroke-width="0.9"/>
<line x1="439" y1="147.2" x2="460.4" y2="147.2" stroke="#222" stroke-width="1.1"/>
<line x1="441.8" y1="151" x2="457.6" y2="151" stroke="#222" stroke-width="1.1"/>
<line x1="445.2" y1="154.4" x2="455.5" y2="154.4" stroke="#222" stroke-width="1.3"/>
<rect x="474.5" y="146" width="8.300000000000011" height="16" rx="0" fill="#c9c9c9" stroke="#333" stroke-width="0.7"/>
<circle cx="478.5" cy="134.4" r="11.3" fill="#c9c9c9" stroke="#333" stroke-width="0.8"/>
<circle cx="478.5" cy="134.4" r="6.5" fill="#fff" stroke="#333" stroke-width="0.8"/>
<rect x="473.4" y="161.3" width="10.400000000000034" height="13.699999999999989" rx="0" fill="#c9c9c9" stroke="#333" stroke-width="0.7"/>
<line x1="478.5" y1="163" x2="478.5" y2="174" stroke="#333" stroke-width="0.5"/>
<circle cx="549.4" cy="206.6" r="9.2" fill="none" stroke="#6a1e30" stroke-width="1.25"/>
<text x="549.4" y="211.3" font-size="13" text-anchor="middle" fill="#6a1e30" font-family="Liberation Sans, sans-serif">3</text>
<rect x="524.5" y="194.9" width="5.7999999999999545" height="20.400000000000006" rx="0" fill="#808080" stroke="#222" stroke-width="0.6"/>
<rect x="522.5" y="215.3" width="10.700000000000045" height="6.799999999999983" rx="0" fill="#808080" stroke="#222" stroke-width="0.6"/>
<line x1="522.5" y1="218.5" x2="533.2" y2="218.5" stroke="#222" stroke-width="0.5"/>
<rect x="518.6" y="223.1" width="17.600000000000023" height="8.800000000000011" rx="0" fill="#808080" stroke="#222" stroke-width="0.6"/>
<rect x="524.1" y="231.9" width="7.600000000000023" height="14.299999999999983" rx="0" fill="#808080" stroke="#222" stroke-width="0.6"/>
<path d="M525.5,246 L523.5,253.5 M530.3,246 L533,253.5" stroke="#111" stroke-width="2" fill="none"/>
<rect x="517.6" y="262" width="20.600000000000023" height="37.19999999999999" rx="0" fill="#8c8c8c" stroke="#222" stroke-width="0.6"/>
<rect x="516.2" y="253.4" width="23.699999999999932" height="12.400000000000006" rx="0" fill="#2a72b8" stroke="#123" stroke-width="0.6"/>
<rect x="522" y="255.8" width="12.100000000000023" height="10.699999999999989" rx="0" fill="#8c8c8c" stroke="none" stroke-width="0"/>
<line x1="522" y1="261" x2="522" y2="281" stroke="#111" stroke-width="1.1"/>
<line x1="534.4" y1="261" x2="534.4" y2="281" stroke="#111" stroke-width="1.1"/>
<line x1="526" y1="258" x2="526" y2="281" stroke="#666" stroke-width="0.6"/>
<line x1="530" y1="258" x2="530" y2="281" stroke="#666" stroke-width="0.6"/>
<line x1="519.3" y1="282" x2="519.3" y2="289.6" stroke="#111" stroke-width="1"/>
<line x1="536.5" y1="282" x2="536.5" y2="289.6" stroke="#111" stroke-width="1"/>
<line x1="517.6" y1="282" x2="538.2" y2="282" stroke="#555" stroke-width="0.5"/>
<path d="M526.2,291.6 L526.2,289.2 L530,289.2 L530,291.6" fill="none" stroke="#111" stroke-width="0.9" />
<line x1="517.6" y1="299.2" x2="538.2" y2="299.2" stroke="#111" stroke-width="1.2"/>
<path d="M518.5,303.2 L536.2,303.2 L539.4,306.5 L539.4,310.2 L536.2,313.5 L518.5,313.5 L515.3,310.2 L515.3,306.5 Z" fill="#8a8a8a" stroke="#111" stroke-width="0.9" />
<g transform="translate(523.2,308.4)"><circle r="3.2" fill="#5a2e1e" stroke="#111" stroke-width="0.6"/><line x1="-2" y1="2" x2="2" y2="-2" stroke="#b07050" stroke-width="0.9"/></g>
<g transform="translate(531.8,308.4)"><circle r="3.2" fill="#c8a888" stroke="#111" stroke-width="0.6"/><line x1="-2" y1="2" x2="2" y2="-2" stroke="#6a4a30" stroke-width="0.9"/></g>
<rect x="521.2" y="314.5" width="12.399999999999977" height="7.199999999999989" rx="0" fill="#fff" stroke="#111" stroke-width="0.9"/>
<rect x="521.8" y="315.2" width="11.200000000000045" height="2.0" rx="0" fill="#c02040" stroke="none" stroke-width="0"/>
<rect x="521.2" y="324.2" width="12.399999999999977" height="5.5" rx="0" fill="#8a8a8a" stroke="#111" stroke-width="0.8"/>
<line x1="523" y1="326.5" x2="532" y2="326.5" stroke="#ddd" stroke-width="0.8"/>
<rect x="518" y="329.7" width="18.700000000000045" height="13.0" rx="0" fill="#8a8a8a" stroke="#111" stroke-width="0.8"/>
<rect x="525.6" y="330.5" width="3.1000000000000227" height="11.5" rx="0" fill="#555" stroke="#111" stroke-width="0.4"/>
<rect x="526" y="335.5" width="2.2999999999999545" height="1.5" rx="0" fill="#e0c0d0" stroke="none" stroke-width="0"/>
<rect x="526" y="338" width="2.2999999999999545" height="1.3000000000000114" rx="0" fill="#fff" stroke="none" stroke-width="0"/>
<path d="M515.3,342 L539.4,342 L539.4,351 Q539.4,353.1 537.3,353.1 L517.4,353.1 Q515.3,353.1 515.3,351 Z" fill="#2a72b8" stroke="#111" stroke-width="0.8" />
<rect x="521.5" y="345" width="4.5" height="5" rx="0" fill="#8a8a8a" stroke="#333" stroke-width="0.4"/>
<rect x="529" y="345" width="4.5" height="5" rx="0" fill="#8a8a8a" stroke="#333" stroke-width="0.4"/>
<circle cx="599" cy="260" r="9.2" fill="none" stroke="#6a1e30" stroke-width="1.25"/>
<text x="599" y="264.7" font-size="13" text-anchor="middle" fill="#6a1e30" font-family="Liberation Sans, sans-serif">4</text>
<path d="M566.3,276.5 L602,276.5 Q608.3,276.5 608.3,283 L608.3,300.6 L596.6,300.6 L596.6,287.5 L566.3,287.5 Z" fill="#808080" stroke="#222" stroke-width="0.7" />
<path d="M589,302 L614.6,302 L616.6,306 L616.6,311 L614.6,313 L589,313 L587,311 L587,306 Z" fill="#c9c9c9" stroke="#333" stroke-width="0.7" />
<line x1="593" y1="302" x2="593" y2="313" stroke="#555" stroke-width="0.6"/>
<line x1="611" y1="302" x2="611" y2="313" stroke="#555" stroke-width="0.6"/>
<rect x="597.3" y="313" width="10.300000000000068" height="16.5" rx="0" fill="#c9c9c9" stroke="#333" stroke-width="0.7"/>
<line x1="597.3" y1="317" x2="607.6" y2="317" stroke="#777" stroke-width="0.8"/>
<line x1="597.3" y1="321" x2="607.6" y2="321" stroke="#777" stroke-width="0.8"/>
<line x1="597.3" y1="325" x2="607.6" y2="325" stroke="#777" stroke-width="0.8"/>
<line x1="602.1" y1="329.5" x2="602.1" y2="342.5" stroke="#222" stroke-width="0.9"/>
<line x1="591" y1="342.5" x2="613.8" y2="342.5" stroke="#222" stroke-width="1.1"/>
<line x1="593.9" y1="346.7" x2="611" y2="346.7" stroke="#222" stroke-width="1.1"/>
<line x1="597.3" y1="350.1" x2="608.3" y2="350.1" stroke="#222" stroke-width="1.3"/>
<circle cx="666.7" cy="180.8" r="9.2" fill="none" stroke="#6a1e30" stroke-width="1.25"/>
<text x="666.7" y="185.5" font-size="13" text-anchor="middle" fill="#6a1e30" font-family="Liberation Sans, sans-serif">5</text>
<rect x="650.3" y="192.2" width="5.5" height="5.800000000000011" rx="0" fill="#808080" stroke="#333" stroke-width="0.6"/>
<rect x="678.7" y="192.2" width="5.899999999999977" height="5.800000000000011" rx="0" fill="#808080" stroke="#333" stroke-width="0.6"/>
<rect x="663.4" y="195.5" width="6.600000000000023" height="2.5" rx="0" fill="#808080" stroke="#333" stroke-width="0.5"/>
<rect x="645.4" y="215" width="43.60000000000002" height="7.699999999999989" rx="0" fill="#808080" stroke="#333" stroke-width="0.6"/>
<path d="M652.5,234 L682,234 L682,248 Q682,251 679,251 L655.5,251 Q652.5,251 652.5,248 Z" fill="#808080" stroke="#222" stroke-width="0.8" />
<rect x="655.8" y="240" width="23.0" height="7.800000000000011" rx="1.5" fill="#fff" stroke="#333" stroke-width="0.6"/>
<rect x="664" y="237" width="6" height="7" rx="0" fill="#808080" stroke="#333" stroke-width="0.5"/>
<rect x="648.2" y="196.6" width="38.09999999999991" height="41.400000000000006" rx="6" fill="#808080" stroke="#222" stroke-width="0.9"/>
<rect x="650.6" y="199" width="33.299999999999955" height="36.599999999999994" rx="4.5" fill="none" stroke="#333" stroke-width="0.5"/>
<rect x="653.6" y="202.6" width="26.699999999999932" height="31.0" rx="3" fill="#f0d83a" stroke="#333" stroke-width="0.6"/>
<circle cx="660.7" cy="210.7" r="5.3" fill="#fff" stroke="#222" stroke-width="0.8"/>
<circle cx="673.8" cy="210.7" r="5.3" fill="#000" stroke="#000" stroke-width="0.8"/>
<g transform="translate(659.6,224.3)"><circle r="5.3" fill="#000"/><line x1="-3.2" y1="3.2" x2="3.2" y2="-3.2" stroke="#d0e0f0" stroke-width="2.2"/></g>
<circle cx="672.7" cy="224.3" r="5.3" fill="#1f80c8" stroke="#124" stroke-width="0.8"/>
<rect x="663.4" y="262" width="3.3999999999999773" height="4" rx="0" fill="#808080" stroke="#333" stroke-width="0.5"/>
<rect x="671" y="262" width="3.3999999999999773" height="4" rx="0" fill="#808080" stroke="#333" stroke-width="0.5"/>
<rect x="658.6" y="265.5" width="21.299999999999955" height="25.5" rx="0" fill="#808080" stroke="#222" stroke-width="0.7"/>
<rect x="655.1" y="291" width="28.199999999999932" height="31.600000000000023" rx="0" fill="#808080" stroke="#222" stroke-width="0.7"/>
<line x1="658" y1="293" x2="658" y2="320" stroke="#222" stroke-width="0.5"/>
<line x1="680.5" y1="293" x2="680.5" y2="320" stroke="#222" stroke-width="0.5"/>
<rect x="656.5" y="310" width="26.100000000000023" height="20" rx="0" fill="#808080" stroke="#222" stroke-width="0.7"/>
<line x1="663" y1="312" x2="663" y2="329" stroke="#222" stroke-width="0.5"/>
<line x1="675" y1="312" x2="675" y2="329" stroke="#222" stroke-width="0.5"/>
<circle cx="759.6" cy="177.3" r="9.2" fill="none" stroke="#6a1e30" stroke-width="1.25"/>
<text x="759.6" y="182.0" font-size="13" text-anchor="middle" fill="#6a1e30" font-family="Liberation Sans, sans-serif">6</text>
<path d="M752.2,191.9 L784.2,191.9 L784.2,208.7 L742.2,208.7 L742.2,201.9 Q742.2,191.9 752.2,191.9 Z" fill="#fff" stroke="#222" stroke-width="0.8" />
<rect x="743.3" y="208.7" width="40.90000000000009" height="1.8000000000000114" rx="0" fill="#fff" stroke="#222" stroke-width="0.6"/>
<rect x="777" y="210.5" width="7.2000000000000455" height="10.300000000000011" rx="0" fill="#fff" stroke="#222" stroke-width="0.7"/>
<line x1="777.5" y1="212.5" x2="784" y2="212.5" stroke="#222" stroke-width="0.5"/>
<line x1="778" y1="218.6" x2="784" y2="218.6" stroke="#222" stroke-width="1"/>
<rect x="745.3" y="210.6" width="25.5" height="2.5999999999999943" rx="0" fill="#111" stroke="none" stroke-width="0"/>
<rect x="744.3" y="213.2" width="28.600000000000023" height="12.400000000000006" rx="1" fill="#fff" stroke="#222" stroke-width="0.8"/>
<rect x="746.4" y="225.6" width="25.100000000000023" height="4.099999999999994" rx="0" fill="#fff" stroke="#222" stroke-width="0.6"/>
<line x1="745.3" y1="229.7" x2="771.8" y2="229.7" stroke="#111" stroke-width="1.2"/>
<rect x="746.4" y="229.7" width="24.700000000000045" height="6.200000000000017" rx="0" fill="#fff" stroke="#222" stroke-width="0.6"/>
<line x1="746.4" y1="235.9" x2="771.1" y2="235.9" stroke="#111" stroke-width="1.5"/>
<path d="M746.8,236.5 L770.8,236.5 L770.3,238.3 L747.3,238.3 Z" fill="#fff" stroke="#444" stroke-width="0.5" />
<rect x="805.4" y="271.2" width="10.100000000000023" height="42.5" rx="0" fill="#c9c9c9" stroke="#333" stroke-width="0.8"/>
<rect x="821" y="271.2" width="10.600000000000023" height="42.5" rx="0" fill="#c9c9c9" stroke="#333" stroke-width="0.8"/>
<rect x="808.0" y="318" width="4.400000000000091" height="9.600000000000023" rx="0" fill="#e0e0e0" stroke="#333" stroke-width="0.6"/>
<rect x="808.6" y="327.6" width="3.2000000000000455" height="4.7999999999999545" rx="0" fill="#e0e0e0" stroke="#333" stroke-width="0.5"/>
<rect x="807.0" y="332.4" width="6.400000000000091" height="12.800000000000011" rx="0" fill="#c9c9c9" stroke="#333" stroke-width="0.6"/>
<rect x="808.2" y="345.2" width="4.0" height="4.800000000000011" rx="0" fill="#e0e0e0" stroke="#333" stroke-width="0.5"/>
<rect x="824.4" y="318" width="4.400000000000091" height="9.600000000000023" rx="0" fill="#e0e0e0" stroke="#333" stroke-width="0.6"/>
<rect x="825.0" y="327.6" width="3.2000000000000455" height="4.7999999999999545" rx="0" fill="#e0e0e0" stroke="#333" stroke-width="0.5"/>
<rect x="823.4" y="332.4" width="6.400000000000091" height="12.800000000000011" rx="0" fill="#c9c9c9" stroke="#333" stroke-width="0.6"/>
<rect x="824.6" y="345.2" width="4.0" height="4.800000000000011" rx="0" fill="#e0e0e0" stroke="#333" stroke-width="0.5"/>
<circle cx="883" cy="74" r="73.5" fill="#d91c48" stroke="#222" stroke-width="1"/>
<rect x="-2.3" y="-75" width="4.6" height="9.4" fill="#fff" stroke="#222" stroke-width="0.7" transform="translate(883,74) rotate(0)"/>
<line x1="879.2" y1="20.0" x2="879.2" y2="8.0" stroke="#3a0a14" stroke-width="0.8"/>
<line x1="886.8" y1="20.0" x2="886.8" y2="8.0" stroke="#3a0a14" stroke-width="0.8"/>
<line x1="886.8" y1="8.4" x2="879.2" y2="8.4" stroke="#3a0a14" stroke-width="0.8"/>
<line x1="879.2" y1="8.11" x2="874.74" y2="1.47" stroke="#3a0a14" stroke-width="0.6"/>
<line x1="886.8" y1="8.11" x2="891.26" y2="1.47" stroke="#3a0a14" stroke-width="0.6"/>
<rect x="-2.3" y="-75" width="4.6" height="9.4" fill="#fff" stroke="#222" stroke-width="0.7" transform="translate(883,74) rotate(-30)"/>
<line x1="852.7" y1="29.1" x2="846.7" y2="18.7" stroke="#3a0a14" stroke-width="0.8"/>
<line x1="859.3" y1="25.3" x2="853.3" y2="14.9" stroke="#3a0a14" stroke-width="0.8"/>
<line x1="853.5" y1="15.3" x2="846.9" y2="19.1" stroke="#3a0a14" stroke-width="0.8"/>
<line x1="846.76" y1="18.84" x2="839.58" y2="15.32" stroke="#3a0a14" stroke-width="0.6"/>
<line x1="853.34" y1="15.04" x2="853.89" y2="7.05" stroke="#3a0a14" stroke-width="0.6"/>
<rect x="-2.3" y="-75" width="4.6" height="9.4" fill="#fff" stroke="#222" stroke-width="0.7" transform="translate(883,74) rotate(-60)"/>
<line x1="834.3" y1="50.3" x2="823.9" y2="44.3" stroke="#3a0a14" stroke-width="0.8"/>
<line x1="838.1" y1="43.7" x2="827.7" y2="37.7" stroke="#3a0a14" stroke-width="0.8"/>
<line x1="828.1" y1="37.9" x2="824.3" y2="44.5" stroke="#3a0a14" stroke-width="0.8"/>
<line x1="824.04" y1="44.34" x2="816.05" y2="44.89" stroke="#3a0a14" stroke-width="0.6"/>
<line x1="827.84" y1="37.76" x2="824.32" y2="30.58" stroke="#3a0a14" stroke-width="0.6"/>
<rect x="-2.3" y="-75" width="4.6" height="9.4" fill="#fff" stroke="#222" stroke-width="0.7" transform="translate(883,74) rotate(270)"/>
<line x1="829.0" y1="77.8" x2="817.0" y2="77.8" stroke="#3a0a14" stroke-width="0.8"/>
<line x1="829.0" y1="70.2" x2="817.0" y2="70.2" stroke="#3a0a14" stroke-width="0.8"/>
<line x1="817.4" y1="70.2" x2="817.4" y2="77.8" stroke="#3a0a14" stroke-width="0.8"/>
<line x1="817.11" y1="77.8" x2="810.47" y2="82.26" stroke="#3a0a14" stroke-width="0.6"/>
<line x1="817.11" y1="70.2" x2="810.47" y2="65.74" stroke="#3a0a14" stroke-width="0.6"/>
<rect x="-2.3" y="-75" width="4.6" height="9.4" fill="#fff" stroke="#222" stroke-width="0.7" transform="translate(883,74) rotate(30)"/>
<line x1="906.7" y1="25.3" x2="912.7" y2="14.9" stroke="#3a0a14" stroke-width="0.8"/>
<line x1="913.3" y1="29.1" x2="919.3" y2="18.7" stroke="#3a0a14" stroke-width="0.8"/>
<line x1="919.1" y1="19.1" x2="912.5" y2="15.3" stroke="#3a0a14" stroke-width="0.8"/>
<line x1="912.66" y1="15.04" x2="912.11" y2="7.05" stroke="#3a0a14" stroke-width="0.6"/>
<line x1="919.24" y1="18.84" x2="926.42" y2="15.32" stroke="#3a0a14" stroke-width="0.6"/>
<rect x="-2.3" y="-75" width="4.6" height="9.4" fill="#fff" stroke="#222" stroke-width="0.7" transform="translate(883,74) rotate(60)"/>
<line x1="927.9" y1="43.7" x2="938.3" y2="37.7" stroke="#3a0a14" stroke-width="0.8"/>
<line x1="931.7" y1="50.3" x2="942.1" y2="44.3" stroke="#3a0a14" stroke-width="0.8"/>
<line x1="941.7" y1="44.5" x2="937.9" y2="37.9" stroke="#3a0a14" stroke-width="0.8"/>
<line x1="938.16" y1="37.76" x2="941.68" y2="30.58" stroke="#3a0a14" stroke-width="0.6"/>
<line x1="941.96" y1="44.34" x2="949.95" y2="44.89" stroke="#3a0a14" stroke-width="0.6"/>
<rect x="-2.3" y="-75" width="4.6" height="9.4" fill="#fff" stroke="#222" stroke-width="0.7" transform="translate(883,74) rotate(90)"/>
<line x1="937.0" y1="70.2" x2="949.0" y2="70.2" stroke="#3a0a14" stroke-width="0.8"/>
<line x1="937.0" y1="77.8" x2="949.0" y2="77.8" stroke="#3a0a14" stroke-width="0.8"/>
<line x1="948.6" y1="77.8" x2="948.6" y2="70.2" stroke="#3a0a14" stroke-width="0.8"/>
<line x1="948.89" y1="70.2" x2="955.53" y2="65.74" stroke="#3a0a14" stroke-width="0.6"/>
<line x1="948.89" y1="77.8" x2="955.53" y2="82.26" stroke="#3a0a14" stroke-width="0.6"/>
<line x1="837.21" y1="102.62" x2="821.09" y2="112.68" stroke="#3a0a14" stroke-width="0.8"/>
<line x1="928.79" y1="102.62" x2="944.91" y2="112.68" stroke="#3a0a14" stroke-width="0.8"/>
<circle cx="883" cy="74" r="54" fill="#8a8a8a" stroke="#222" stroke-width="0.9"/>
<circle cx="883" cy="74" r="43.6" fill="#fff" stroke="#222" stroke-width="1"/>
<circle cx="932.8" cy="74.0" r="2.4" fill="#fff" stroke="#222" stroke-width="0.7"/>
<circle cx="926.1" cy="98.9" r="2.4" fill="#fff" stroke="#222" stroke-width="0.7"/>
<circle cx="907.9" cy="117.1" r="2.4" fill="#fff" stroke="#222" stroke-width="0.7"/>
<circle cx="883.0" cy="123.8" r="2.4" fill="#fff" stroke="#222" stroke-width="0.7"/>
<circle cx="858.1" cy="117.1" r="2.4" fill="#fff" stroke="#222" stroke-width="0.7"/>
<circle cx="839.9" cy="98.9" r="2.4" fill="#fff" stroke="#222" stroke-width="0.7"/>
<circle cx="833.2" cy="74.0" r="2.4" fill="#fff" stroke="#222" stroke-width="0.7"/>
<circle cx="839.9" cy="49.1" r="2.4" fill="#fff" stroke="#222" stroke-width="0.7"/>
<circle cx="858.1" cy="30.9" r="2.4" fill="#fff" stroke="#222" stroke-width="0.7"/>
<circle cx="883.0" cy="24.2" r="2.4" fill="#fff" stroke="#222" stroke-width="0.7"/>
<circle cx="907.9" cy="30.9" r="2.4" fill="#fff" stroke="#222" stroke-width="0.7"/>
<circle cx="926.1" cy="49.1" r="2.4" fill="#fff" stroke="#222" stroke-width="0.7"/>
<circle cx="818.3" cy="12.2" r="9.2" fill="none" stroke="#6a1e30" stroke-width="1.25"/>
<text x="818.3" y="16.9" font-size="13" text-anchor="middle" fill="#6a1e30" font-family="Liberation Sans, sans-serif">7</text>
<circle cx="914.4" cy="247.3" r="10.2" fill="none" stroke="#6a1e30" stroke-width="1.25"/>
<text x="914.4" y="252.0" font-size="13" text-anchor="middle" fill="#6a1e30" font-family="Liberation Sans, sans-serif">8</text>
<rect x="861.2" y="192.4" width="27.299999999999955" height="17.5" rx="1.5" fill="#5a5450" stroke="#222" stroke-width="0.8"/>
<rect x="861.2" y="195.6" width="27.299999999999955" height="3.700000000000017" rx="0" fill="#9a8672" stroke="none" stroke-width="0"/>
<line x1="861.2" y1="197.4" x2="888.5" y2="197.4" stroke="#5a4a3a" stroke-width="0.6"/>
<rect x="866.8" y="192.7" width="4.800000000000068" height="13.300000000000011" rx="0" fill="#808080" stroke="#333" stroke-width="0.5"/>
<rect x="877.6" y="192.7" width="4.7999999999999545" height="13.300000000000011" rx="0" fill="#808080" stroke="#333" stroke-width="0.5"/>
<rect x="866" y="203" width="18" height="6.900000000000006" rx="0" fill="#707880" stroke="#333" stroke-width="0.5"/>
<path d="M871.6,203 L871.6,207 L877.6,207 L877.6,203" fill="none" stroke="#222" stroke-width="0.8" />
<rect x="856.3" y="183.8" width="36.200000000000045" height="8.899999999999977" rx="0" fill="#6e6e6e" stroke="#222" stroke-width="0.8"/>
<rect x="856.8" y="184.3" width="6.2000000000000455" height="7.899999999999977" rx="0" fill="#858585" stroke="none" stroke-width="0"/>
<rect x="886" y="184.3" width="6" height="7.899999999999977" rx="0" fill="#858585" stroke="none" stroke-width="0"/>
<rect x="866.3" y="184.5" width="2.400000000000091" height="6.5" rx="0" fill="#858585" stroke="#333" stroke-width="0.4"/>
<rect x="872.3" y="184.5" width="2.400000000000091" height="6.5" rx="0" fill="#858585" stroke="#333" stroke-width="0.4"/>
<rect x="878.3" y="184.5" width="2.400000000000091" height="6.5" rx="0" fill="#858585" stroke="#333" stroke-width="0.4"/>
<rect x="863.2" y="214.2" width="22.5" height="12.400000000000006" rx="0" fill="#808080" stroke="#111" stroke-width="0.9"/>
<rect x="865.5" y="215.8" width="18.0" height="10.799999999999983" rx="0" fill="#808080" stroke="#333" stroke-width="0.5"/>
<rect x="869.7" y="217.1" width="10.399999999999977" height="2.9000000000000057" rx="0" fill="#fff" stroke="none" stroke-width="0"/>
<rect x="873.7" y="219.5" width="1.8999999999999773" height="6.900000000000006" rx="0" fill="#fff" stroke="none" stroke-width="0"/>
<path d="M858,227.3 L891,227.3 A5.9,5.9 0 0 1 891,239.2 L858,239.2 A5.9,5.9 0 0 1 858,227.3 Z" fill="#6a6a6a" stroke="#222" stroke-width="0.8" />
<g transform="translate(861.5,233.2)"><circle r="3.7" fill="#f0d03a" stroke="#222" stroke-width="0.6"/><line x1="-2.3" y1="2.3" x2="2.3" y2="-2.3" stroke="#000" stroke-width="1.4"/></g>
<g transform="translate(869.8,233.2)"><circle r="3.7" fill="#f0d03a" stroke="#222" stroke-width="0.6"/><line x1="-2.3" y1="2.3" x2="2.3" y2="-2.3" stroke="#000" stroke-width="1.4"/></g>
<g transform="translate(879,233.2)"><circle r="3.7" fill="#fff" stroke="#222" stroke-width="0.6"/><line x1="-2.3" y1="2.3" x2="2.3" y2="-2.3" stroke="#3a9a3a" stroke-width="1.4"/></g>
<g transform="translate(887.6,233.2)"><circle r="3.7" fill="#3a9a3a" stroke="#222" stroke-width="0.6"/><line x1="-2.3" y1="2.3" x2="2.3" y2="-2.3" stroke="#fff" stroke-width="1.4"/></g>
<rect x="858.8" y="242" width="31.200000000000045" height="43" rx="0" fill="#808080" stroke="#222" stroke-width="0.8"/>
<line x1="858.8" y1="252" x2="890" y2="252" stroke="#222" stroke-width="0.5"/>
<line x1="866" y1="262" x2="866" y2="286" stroke="#222" stroke-width="0.7"/>
<line x1="873.5" y1="262" x2="873.5" y2="286" stroke="#222" stroke-width="0.7"/>
<line x1="881" y1="262" x2="881" y2="286" stroke="#222" stroke-width="0.7"/>
<line x1="873.5" y1="246" x2="873.5" y2="260" stroke="#222" stroke-width="0.8"/>
<line x1="870" y1="259" x2="877" y2="259" stroke="#222" stroke-width="0.8"/>
<rect x="856" y="283.3" width="36.799999999999955" height="9.199999999999989" rx="0" fill="#808080" stroke="#222" stroke-width="0.8"/>
<rect x="902.3" y="180.4" width="8.5" height="47.400000000000006" rx="0" fill="#c9c9c9" stroke="#333" stroke-width="0.8"/>
<rect x="913.5" y="180.4" width="8.600000000000023" height="47.400000000000006" rx="0" fill="#c9c9c9" stroke="#333" stroke-width="0.8"/>
<rect x="902.3" y="217.1" width="8.5" height="10.700000000000017" rx="0" fill="#000" stroke="none" stroke-width="0"/>
<rect x="913.5" y="217.1" width="8.600000000000023" height="10.700000000000017" rx="0" fill="#000" stroke="none" stroke-width="0"/>
<rect x="883.2" y="451.0" width="71.79999999999995" height="9.0" rx="0" fill="#fff" stroke="none" stroke-width="0"/>
<rect x="883.2" y="469.0" width="71.79999999999995" height="9.0" rx="0" fill="#fff" stroke="none" stroke-width="0"/>
<rect x="883.2" y="526.2" width="71.79999999999995" height="9.0" rx="0" fill="#fff" stroke="none" stroke-width="0"/>
<rect x="883.2" y="554.3" width="71.79999999999995" height="9.0" rx="0" fill="#fff" stroke="none" stroke-width="0"/>
<rect x="883.2" y="571.7" width="71.79999999999995" height="9.0" rx="0" fill="#fff" stroke="none" stroke-width="0"/>
<rect x="883.2" y="589.0" width="71.79999999999995" height="9.0" rx="0" fill="#fff" stroke="none" stroke-width="0"/>
<rect x="883.4" y="450.7" width="38.60000000000002" height="9.0" rx="0" fill="#e2e2e2" stroke="#111" stroke-width="0.9"/>
<rect x="946.368" y="452.0" width="8.231999999999971" height="6.399999999999977" rx="0" fill="#eee" stroke="#333" stroke-width="0.6"/>
<rect x="944.0160000000001" y="453.0" width="2.3519999999999754" height="4.399999999999977" rx="0" fill="#eee" stroke="#333" stroke-width="0.5"/>
<rect x="934.02" y="451.2" width="9.996000000000095" height="8.0" rx="0" fill="#e6e6e6" stroke="#333" stroke-width="0.6"/>
<line x1="939.9000000000001" y1="451.2" x2="939.9000000000001" y2="459.2" stroke="#999" stroke-width="0.6"/>
<rect x="931.668" y="452.2" width="2.3519999999999754" height="6.0" rx="0" fill="#eee" stroke="#333" stroke-width="0.5"/>
<polyline points="930.4920000000001,451.7 925.2,451.7 925.2,458.7 930.4920000000001,458.7" fill="#fff" stroke="#333" stroke-width="0.6"/>
<rect x="883.4" y="470.6" width="8.288000000000011" height="6.399999999999977" rx="0" fill="#eee" stroke="#333" stroke-width="0.6"/>
<rect x="891.688" y="471.6" width="2.368000000000052" height="4.399999999999977" rx="0" fill="#eee" stroke="#333" stroke-width="0.5"/>
<rect x="894.056" y="469.8" width="10.063999999999965" height="8.0" rx="0" fill="#e6e6e6" stroke="#333" stroke-width="0.6"/>
<line x1="898.2" y1="469.8" x2="898.2" y2="477.8" stroke="#999" stroke-width="0.6"/>
<rect x="904.12" y="470.8" width="2.367999999999938" height="6.0" rx="0" fill="#eee" stroke="#333" stroke-width="0.5"/>
<polyline points="907.672,470.3 913,470.3 913,477.3 907.672,477.3" fill="#fff" stroke="#333" stroke-width="0.6"/>
<rect x="916.3" y="469.3" width="38.700000000000045" height="9.0" rx="0" fill="#e2e2e2" stroke="#111" stroke-width="0.9"/>
<rect x="883.4" y="527.5" width="8.231999999999971" height="6.400000000000091" rx="0" fill="#eee" stroke="#333" stroke-width="0.6"/>
<rect x="891.632" y="528.5" width="2.3519999999999754" height="4.400000000000091" rx="0" fill="#eee" stroke="#333" stroke-width="0.5"/>
<rect x="893.9839999999999" y="526.7" width="9.996000000000095" height="8.0" rx="0" fill="#e6e6e6" stroke="#333" stroke-width="0.6"/>
<line x1="898.0999999999999" y1="526.7" x2="898.0999999999999" y2="534.7" stroke="#999" stroke-width="0.6"/>
<rect x="903.98" y="527.7" width="2.3519999999999754" height="6.0" rx="0" fill="#eee" stroke="#333" stroke-width="0.5"/>
<polyline points="907.5079999999999,527.2 912.8,527.2 912.8,534.2 907.5079999999999,534.2" fill="#fff" stroke="#333" stroke-width="0.6"/>
<rect x="916.6" y="526.2" width="38.0" height="9.0" rx="0" fill="#e2e2e2" stroke="#111" stroke-width="0.9"/>
<rect x="883.4" y="554.3" width="37.89999999999998" height="9.0" rx="0" fill="#e2e2e2" stroke="#111" stroke-width="0.9"/>
<rect x="946.312" y="555.5999999999999" width="8.288000000000011" height="6.400000000000091" rx="0" fill="#eee" stroke="#333" stroke-width="0.6"/>
<rect x="943.944" y="556.5999999999999" width="2.368000000000052" height="4.400000000000091" rx="0" fill="#eee" stroke="#333" stroke-width="0.5"/>
<rect x="933.88" y="554.8" width="10.063999999999965" height="8.0" rx="0" fill="#e6e6e6" stroke="#333" stroke-width="0.6"/>
<line x1="939.8" y1="554.8" x2="939.8" y2="562.8" stroke="#999" stroke-width="0.6"/>
<rect x="931.5120000000001" y="555.8" width="2.367999999999938" height="6.0" rx="0" fill="#eee" stroke="#333" stroke-width="0.5"/>
<polyline points="930.328,555.3 925,555.3 925,562.3 930.328,562.3" fill="#fff" stroke="#333" stroke-width="0.6"/>
<rect x="883.4" y="573.0" width="8.231999999999971" height="6.400000000000091" rx="0" fill="#eee" stroke="#333" stroke-width="0.6"/>
<rect x="891.632" y="574.0" width="2.3519999999999754" height="4.400000000000091" rx="0" fill="#eee" stroke="#333" stroke-width="0.5"/>
<rect x="893.9839999999999" y="572.2" width="9.996000000000095" height="8.0" rx="0" fill="#e6e6e6" stroke="#333" stroke-width="0.6"/>
<line x1="898.0999999999999" y1="572.2" x2="898.0999999999999" y2="580.2" stroke="#999" stroke-width="0.6"/>
<rect x="903.98" y="573.2" width="2.3519999999999754" height="6.0" rx="0" fill="#eee" stroke="#333" stroke-width="0.5"/>
<polyline points="907.5079999999999,572.7 912.8,572.7 912.8,579.7 907.5079999999999,579.7" fill="#fff" stroke="#333" stroke-width="0.6"/>
<rect x="916.6" y="571.7" width="38.0" height="9.0" rx="0" fill="#e2e2e2" stroke="#111" stroke-width="0.9"/>
<rect x="883.4" y="589.0" width="37.89999999999998" height="9.0" rx="0" fill="#e2e2e2" stroke="#111" stroke-width="0.9"/>
<rect x="946.312" y="590.3" width="8.288000000000011" height="6.400000000000091" rx="0" fill="#eee" stroke="#333" stroke-width="0.6"/>
<rect x="943.944" y="591.3" width="2.368000000000052" height="4.400000000000091" rx="0" fill="#eee" stroke="#333" stroke-width="0.5"/>
<rect x="933.88" y="589.5" width="10.063999999999965" height="8.0" rx="0" fill="#e6e6e6" stroke="#333" stroke-width="0.6"/>
<line x1="939.8" y1="589.5" x2="939.8" y2="597.5" stroke="#999" stroke-width="0.6"/>
<rect x="931.5120000000001" y="590.5" width="2.367999999999938" height="6.0" rx="0" fill="#eee" stroke="#333" stroke-width="0.5"/>
<polyline points="930.328,590.0 925,590.0 925,597.0 930.328,597.0" fill="#fff" stroke="#333" stroke-width="0.6"/>
<circle cx="1036.8" cy="461" r="10" fill="none" stroke="#6a1e30" stroke-width="1.25"/>
<text x="1036.8" y="465.7" font-size="13" text-anchor="middle" fill="#6a1e30" font-family="Liberation Sans, sans-serif">9</text>
<rect x="984.3" y="449" width="14.800000000000068" height="30.30000000000001" rx="0" fill="#7a7a7a" stroke="#222" stroke-width="0.8"/>
<line x1="988" y1="451.5" x2="997" y2="451.5" stroke="#222" stroke-width="0.8"/>
<rect x="1006.6" y="451.5" width="7.100000000000023" height="25.69999999999999" rx="0" fill="#7a7a7a" stroke="#222" stroke-width="0.8"/>
<line x1="1008" y1="453.5" x2="1012" y2="453.5" stroke="#222" stroke-width="0.8"/>
<rect x="999.1" y="443" width="7.5" height="42.69999999999999" rx="0" fill="#7a7a7a" stroke="#222" stroke-width="0.8"/>
<circle cx="1002.8" cy="445.8" r="1" fill="#c0203c" stroke="none" stroke-width="0"/>
<circle cx="1157.7" cy="517" r="10.2" fill="none" stroke="#6a1e30" stroke-width="1.25"/>
<text x="1157.7" y="521.5" font-size="12.5" text-anchor="middle" fill="#6a1e30" font-family="Liberation Sans, sans-serif">10</text>
<path d="M1106.3,494.1 L1132.8,500.9 Q1138.4,504 1138.4,510 L1138.4,525 Q1138,529 1130,531 L1120,534 L1108.7,547.4 L1107,538.6 Z" fill="#7e7e7e" stroke="#222" stroke-width="0.8" />
<rect x="1053.3" y="498" width="53.700000000000045" height="40.60000000000002" rx="5" fill="#7e7e7e" stroke="#222" stroke-width="0.8"/>
<line x1="1106.3" y1="494.1" x2="1107" y2="538.6" stroke="#222" stroke-width="0.8"/>
<rect x="1056" y="512" width="6" height="15" rx="0" fill="none" stroke="#444" stroke-width="0.6"/>
<rect x="1066" y="513" width="5" height="11" rx="0" fill="none" stroke="#222" stroke-width="0.7"/>
<line x1="1062" y1="518.5" x2="1066" y2="518.5" stroke="#222" stroke-width="0.7"/>
<rect x="1080" y="513" width="5" height="11" rx="0" fill="none" stroke="#222" stroke-width="0.7"/>
<line x1="1076" y1="518.5" x2="1080" y2="518.5" stroke="#222" stroke-width="0.7"/>
<rect x="1100" y="509.5" width="10.5" height="18.0" rx="0" fill="none" stroke="#222" stroke-width="0.8"/>
<circle cx="1104.6" cy="517" r="1.2" fill="#c0203c" stroke="none" stroke-width="0"/>
<path d="M1100,528.5 L1108.5,528.5 L1108.5,538.6 L1097,538.6 Z" fill="#8a8a8a" stroke="#222" stroke-width="0.6" />
<ellipse cx="1126.4" cy="535.6" rx="4.5" ry="3.3" fill="#d42040"/>
<path d="M1118,534 L1123,534 L1122,537 Z" fill="#d42040" stroke="none" stroke-width="0" />
<circle cx="1151.2" cy="582.5" r="10.2" fill="none" stroke="#6a1e30" stroke-width="1.25"/>
<text x="1151.2" y="587.0" font-size="12.5" text-anchor="middle" fill="#6a1e30" font-family="Liberation Sans, sans-serif">11</text>
<rect x="1053.3" y="574" width="13.700000000000045" height="19.200000000000045" rx="0" fill="#7a7a7a" stroke="#222" stroke-width="0.8"/>
<line x1="1057" y1="574" x2="1057" y2="593.2" stroke="#444" stroke-width="0.6"/>
<line x1="1060.5" y1="574" x2="1060.5" y2="593.2" stroke="#444" stroke-width="0.6"/>
<line x1="1064" y1="574" x2="1064" y2="593.2" stroke="#444" stroke-width="0.6"/>
<rect x="1066" y="565" width="14" height="38.700000000000045" rx="3" fill="#7a7a7a" stroke="#222" stroke-width="0.8"/>
<line x1="1066" y1="570" x2="1080" y2="570" stroke="#444" stroke-width="0.5"/>
<line x1="1066" y1="598" x2="1080" y2="598" stroke="#444" stroke-width="0.5"/>
<rect x="1079" y="558.7" width="9.599999999999909" height="49.799999999999955" rx="1.5" fill="#cfcfcf" stroke="#555" stroke-width="0.8"/>
<path d="M1088.6,561.5 L1099,561.5 L1102,563 L1108.5,568.5 L1120,567 L1124.7,567.5 L1124.7,601 L1120,601.5 L1108.5,600.4 L1102,605.5 L1099,607 L1088.6,607 Z" fill="#e8722a" stroke="#5a2a10" stroke-width="0.8" />
<line x1="1097" y1="567" x2="1097" y2="601" stroke="#7a3510" stroke-width="0.6"/>
<line x1="1108.5" y1="569" x2="1108.5" y2="600" stroke="#7a3510" stroke-width="0.6"/>
<line x1="1121" y1="569" x2="1121" y2="600" stroke="#7a3510" stroke-width="0.6"/>
<polyline points="795,633.5 801,631.1 837.9,631.1" fill="none" stroke="#000" stroke-width="3.6" stroke-linejoin="miter" stroke-linecap="butt"/>
<polyline points="795,633.5 801,631.1 837.9,631.1" fill="none" stroke="#d49a70" stroke-width="1.8" stroke-linejoin="miter" stroke-linecap="butt" stroke-dasharray="2 7.5"/>
<polyline points="795,637.5 801,639.8 837.9,639.8" fill="none" stroke="#000" stroke-width="3.6" stroke-linejoin="miter" stroke-linecap="butt"/>
<rect x="669.1" y="629.7" width="15.5" height="11.899999999999977" rx="0" fill="#808080" stroke="#222" stroke-width="0.7"/>
<line x1="673" y1="629.7" x2="673" y2="641.6" stroke="#333" stroke-width="0.5"/>
<rect x="684.2" y="623.4" width="21.5" height="25.300000000000068" rx="0" fill="#808080" stroke="#222" stroke-width="0.7"/>
<line x1="686" y1="630.5" x2="704" y2="630.5" stroke="#333" stroke-width="0.5"/>
<line x1="686" y1="641.5" x2="704" y2="641.5" stroke="#333" stroke-width="0.5"/>
<ellipse cx="729.9" cy="636" rx="14.4" ry="16.2" fill="#808080" stroke="#222" stroke-width="0.8"/>
<ellipse cx="729.9" cy="636" rx="11.5" ry="13.8" fill="none" stroke="#333" stroke-width="0.5"/>
<rect x="726.5" y="618" width="6.7999999999999545" height="3" rx="0" fill="#808080" stroke="#222" stroke-width="0.5"/>
<rect x="726.5" y="651" width="6.7999999999999545" height="3" rx="0" fill="#808080" stroke="#222" stroke-width="0.5"/>
<rect x="743" y="633" width="2.5" height="6" rx="0" fill="#808080" stroke="#222" stroke-width="0.5"/>
<rect x="714.3" y="633" width="2.5" height="6" rx="0" fill="#808080" stroke="#222" stroke-width="0.5"/>
<g transform="translate(729.9,629.2)"><circle r="5.6" fill="#000"/><line x1="-3.5" y1="3.5" x2="3.5" y2="-3.5" stroke="#d8904a" stroke-width="2.2"/></g>
<circle cx="729.9" cy="641.6" r="6" fill="#3aa53a" stroke="#2a5a2a" stroke-width="0.5"/>
<path d="M754.2,624 L775.6,624 L780.5,630 L794.6,630 L794.6,640.4 L780.5,640.4 L776,646.6 L754.2,646.6 Z" fill="#808080" stroke="#222" stroke-width="0.7" />
<line x1="760" y1="624" x2="760" y2="646.6" stroke="#333" stroke-width="0.5"/>
<line x1="780.5" y1="630" x2="780.5" y2="640.4" stroke="#333" stroke-width="0.5"/>
<rect x="763" y="632" width="9" height="5" rx="0" fill="#808080" stroke="#333" stroke-width="0.5"/>
<line x1="757" y1="628.5" x2="772" y2="628.5" stroke="#333" stroke-width="0.5"/>
<line x1="757" y1="642.5" x2="772" y2="642.5" stroke="#333" stroke-width="0.5"/>
<path d="M852.9,659 L892,659 L892,684.1 L871.9,691.3 L852.9,684.1 Z" fill="#808080" stroke="#222" stroke-width="0.8" />
<line x1="856.5" y1="659" x2="856.5" y2="683.5" stroke="#222" stroke-width="0.6"/>
<line x1="888.5" y1="659" x2="888.5" y2="683.5" stroke="#222" stroke-width="0.6"/>
<circle cx="871.7" cy="683.5" r="5.2" fill="#808080" stroke="#222" stroke-width="0.8"/>
<rect x="905.2" y="640.1" width="37.299999999999955" height="28.399999999999977" rx="0" fill="#808080" stroke="#222" stroke-width="0.8"/>
<rect x="838" y="607" width="67.20000000000005" height="57.200000000000045" rx="0" fill="#808080" stroke="#222" stroke-width="0.8"/>
<line x1="863" y1="664.2" x2="883" y2="664.2" stroke="#222" stroke-width="0.6"/>
<circle cx="875.0" cy="632.6" r="11.4" fill="#fff" stroke="#111" stroke-width="1.1"/>
<polygon points="870.0,628.2 874.1,625.2 877.8,625.2 877.8,638.8 873.2,638.8 873.2,630.4 870.0,630.4" fill="#000"/>
<rect x="942.5" y="651.0" width="119.5" height="6.400000000000091" rx="0" fill="#808080" stroke="#222" stroke-width="0.9"/>
<path d="M1061.2,648.5 L1076.6,647.0 L1076.6,661.5 L1061.2,660.1 Z" fill="#808080" stroke="#222" stroke-width="0.9" />
<rect x="1076.6" y="645.8000000000001" width="12.100000000000136" height="17.199999999999932" rx="1" fill="#808080" stroke="#222" stroke-width="0.9"/>
<line x1="1083" y1="645.8000000000001" x2="1083" y2="663.0" stroke="#222" stroke-width="0.8"/>
<path d="M1088.7,646.5 L1100,646.0 L1108,644.5 L1115.3,644.3000000000001 L1118.8,645.5 L1138.5,672.0 L1141,672.6 L1147.5,682.9000000000001 L1145.4,686.4000000000001 L1145.4,688.9000000000001 L1135,695.0 L1133.4,694.1 L1128.2,694.5 L1122.2,683.8000000000001 L1123.9,682.1 L1111,661.5 L1088.7,660.5 Z" fill="#808080" stroke="#222" stroke-width="0.9" />
<line x1="1113.6" y1="652.8000000000001" x2="1111" y2="661.5" stroke="#222" stroke-width="0.7"/>
<line x1="1123.9" y1="682.1" x2="1138.5" y2="673.5" stroke="#222" stroke-width="0.7"/>
<line x1="1132.5" y1="692.4000000000001" x2="1145.4" y2="685.5" stroke="#222" stroke-width="0.7"/>
<polyline points="795,720.3 801,717.9 837.9,717.9" fill="none" stroke="#000" stroke-width="3.6" stroke-linejoin="miter" stroke-linecap="butt"/>
<polyline points="795,720.3 801,717.9 837.9,717.9" fill="none" stroke="#ffffff" stroke-width="1.8" stroke-linejoin="miter" stroke-linecap="butt" stroke-dasharray="2 8"/>
<polyline points="795,724.3 801,726.5999999999999 837.9,726.5999999999999" fill="none" stroke="#000" stroke-width="3.6" stroke-linejoin="miter" stroke-linecap="butt"/>
<rect x="669.1" y="716.5" width="15.5" height="11.899999999999977" rx="0" fill="#808080" stroke="#222" stroke-width="0.7"/>
<line x1="673" y1="716.5" x2="673" y2="728.4" stroke="#333" stroke-width="0.5"/>
<rect x="684.2" y="710.1999999999999" width="21.5" height="25.300000000000068" rx="0" fill="#808080" stroke="#222" stroke-width="0.7"/>
<line x1="686" y1="717.3" x2="704" y2="717.3" stroke="#333" stroke-width="0.5"/>
<line x1="686" y1="728.3" x2="704" y2="728.3" stroke="#333" stroke-width="0.5"/>
<ellipse cx="729.9" cy="722.8" rx="14.4" ry="16.2" fill="#808080" stroke="#222" stroke-width="0.8"/>
<ellipse cx="729.9" cy="722.8" rx="11.5" ry="13.8" fill="none" stroke="#333" stroke-width="0.5"/>
<rect x="726.5" y="704.8" width="6.7999999999999545" height="3.0" rx="0" fill="#808080" stroke="#222" stroke-width="0.5"/>
<rect x="726.5" y="737.8" width="6.7999999999999545" height="3.0" rx="0" fill="#808080" stroke="#222" stroke-width="0.5"/>
<rect x="743" y="719.8" width="2.5" height="6.0" rx="0" fill="#808080" stroke="#222" stroke-width="0.5"/>
<rect x="714.3" y="719.8" width="2.5" height="6.0" rx="0" fill="#808080" stroke="#222" stroke-width="0.5"/>
<g transform="translate(729.9,716.0)"><circle r="5.6" fill="#000"/><line x1="-3.5" y1="3.5" x2="3.5" y2="-3.5" stroke="#fff" stroke-width="2.2"/></g>
<circle cx="729.9" cy="728.4" r="6" fill="#3aa53a" stroke="#2a5a2a" stroke-width="0.5"/>
<path d="M754.2,710.8 L775.6,710.8 L780.5,716.8 L794.6,716.8 L794.6,727.1999999999999 L780.5,727.1999999999999 L776,733.4 L754.2,733.4 Z" fill="#808080" stroke="#222" stroke-width="0.7" />
<line x1="760" y1="710.8" x2="760" y2="733.4" stroke="#333" stroke-width="0.5"/>
<line x1="780.5" y1="716.8" x2="780.5" y2="727.1999999999999" stroke="#333" stroke-width="0.5"/>
<rect x="763" y="718.8" width="9" height="5.0" rx="0" fill="#808080" stroke="#333" stroke-width="0.5"/>
<line x1="757" y1="715.3" x2="772" y2="715.3" stroke="#333" stroke-width="0.5"/>
<line x1="757" y1="729.3" x2="772" y2="729.3" stroke="#333" stroke-width="0.5"/>
<path d="M852.9,746.3 L892,746.3 L892,771.4 L871.9,778.5999999999999 L852.9,771.4 Z" fill="#808080" stroke="#222" stroke-width="0.8" />
<line x1="856.5" y1="746.3" x2="856.5" y2="770.8" stroke="#222" stroke-width="0.6"/>
<line x1="888.5" y1="746.3" x2="888.5" y2="770.8" stroke="#222" stroke-width="0.6"/>
<circle cx="871.7" cy="770.8" r="5.2" fill="#808080" stroke="#222" stroke-width="0.8"/>
<rect x="905.2" y="727.4" width="37.299999999999955" height="28.399999999999977" rx="0" fill="#808080" stroke="#222" stroke-width="0.8"/>
<rect x="838" y="694.3" width="67.20000000000005" height="57.200000000000045" rx="0" fill="#808080" stroke="#222" stroke-width="0.8"/>
<line x1="863" y1="751.5" x2="883" y2="751.5" stroke="#222" stroke-width="0.6"/>
<circle cx="875.0" cy="723.3" r="11.4" fill="#fff" stroke="#111" stroke-width="1.1"/>
<text x="874.6" y="729.9" font-size="19" font-weight="bold" text-anchor="middle" fill="#000" stroke="#000" stroke-width="1.3" stroke-linejoin="round">2</text>
<rect x="942.5" y="738.3" width="119.5" height="6.400000000000091" rx="0" fill="#808080" stroke="#222" stroke-width="0.9"/>
<path d="M1061.2,735.8 L1076.6,734.3 L1076.6,748.8 L1061.2,747.4 Z" fill="#808080" stroke="#222" stroke-width="0.9" />
<rect x="1076.6" y="733.1" width="12.100000000000136" height="17.199999999999932" rx="1" fill="#808080" stroke="#222" stroke-width="0.9"/>
<line x1="1083" y1="733.1" x2="1083" y2="750.3" stroke="#222" stroke-width="0.8"/>
<path d="M1088.7,733.8 L1100,733.3 L1108,731.8 L1115.3,731.6 L1118.8,732.8 L1138.5,759.3 L1141,759.9 L1147.5,770.2 L1145.4,773.7 L1145.4,776.2 L1135,782.3 L1133.4,781.4 L1128.2,781.8 L1122.2,771.1 L1123.9,769.4 L1111,748.8 L1088.7,747.8 Z" fill="#808080" stroke="#222" stroke-width="0.9" />
<line x1="1113.6" y1="740.1" x2="1111" y2="748.8" stroke="#222" stroke-width="0.7"/>
<line x1="1123.9" y1="769.4" x2="1138.5" y2="760.8" stroke="#222" stroke-width="0.7"/>
<line x1="1132.5" y1="779.7" x2="1145.4" y2="772.8" stroke="#222" stroke-width="0.7"/>
<polyline points="795,811.5 801,809.1 837.9,809.1" fill="none" stroke="#000" stroke-width="3.6" stroke-linejoin="miter" stroke-linecap="butt"/>
<polyline points="795,811.5 801,809.1 837.9,809.1" fill="none" stroke="#6a9a62" stroke-width="1.8" stroke-linejoin="miter" stroke-linecap="butt" stroke-dasharray="2.6 7"/>
<polyline points="795,815.5 801,817.8 837.9,817.8" fill="none" stroke="#000" stroke-width="3.6" stroke-linejoin="miter" stroke-linecap="butt"/>
<rect x="669.1" y="807.7" width="15.5" height="11.899999999999977" rx="0" fill="#808080" stroke="#222" stroke-width="0.7"/>
<line x1="673" y1="807.7" x2="673" y2="819.6" stroke="#333" stroke-width="0.5"/>
<rect x="684.2" y="801.4" width="21.5" height="25.300000000000068" rx="0" fill="#808080" stroke="#222" stroke-width="0.7"/>
<line x1="686" y1="808.5" x2="704" y2="808.5" stroke="#333" stroke-width="0.5"/>
<line x1="686" y1="819.5" x2="704" y2="819.5" stroke="#333" stroke-width="0.5"/>
<ellipse cx="729.9" cy="814" rx="14.4" ry="16.2" fill="#808080" stroke="#222" stroke-width="0.8"/>
<ellipse cx="729.9" cy="814" rx="11.5" ry="13.8" fill="none" stroke="#333" stroke-width="0.5"/>
<rect x="726.5" y="796" width="6.7999999999999545" height="3" rx="0" fill="#808080" stroke="#222" stroke-width="0.5"/>
<rect x="726.5" y="829" width="6.7999999999999545" height="3" rx="0" fill="#808080" stroke="#222" stroke-width="0.5"/>
<rect x="743" y="811" width="2.5" height="6" rx="0" fill="#808080" stroke="#222" stroke-width="0.5"/>
<rect x="714.3" y="811" width="2.5" height="6" rx="0" fill="#808080" stroke="#222" stroke-width="0.5"/>
<g transform="translate(729.9,807.2)"><circle r="5.6" fill="#000"/><line x1="-3.5" y1="3.5" x2="3.5" y2="-3.5" stroke="#2f9a3f" stroke-width="2.2"/></g>
<circle cx="729.9" cy="819.6" r="6" fill="#3aa53a" stroke="#2a5a2a" stroke-width="0.5"/>
<path d="M754.2,802 L775.6,802 L780.5,808 L794.6,808 L794.6,818.4 L780.5,818.4 L776,824.6 L754.2,824.6 Z" fill="#808080" stroke="#222" stroke-width="0.7" />
<line x1="760" y1="802" x2="760" y2="824.6" stroke="#333" stroke-width="0.5"/>
<line x1="780.5" y1="808" x2="780.5" y2="818.4" stroke="#333" stroke-width="0.5"/>
<rect x="763" y="810" width="9" height="5" rx="0" fill="#808080" stroke="#333" stroke-width="0.5"/>
<line x1="757" y1="806.5" x2="772" y2="806.5" stroke="#333" stroke-width="0.5"/>
<line x1="757" y1="820.5" x2="772" y2="820.5" stroke="#333" stroke-width="0.5"/>
<path d="M852.9,834.5 L892,834.5 L892,859.6 L871.9,866.8 L852.9,859.6 Z" fill="#808080" stroke="#222" stroke-width="0.8" />
<line x1="856.5" y1="834.5" x2="856.5" y2="859.0" stroke="#222" stroke-width="0.6"/>
<line x1="888.5" y1="834.5" x2="888.5" y2="859.0" stroke="#222" stroke-width="0.6"/>
<circle cx="871.7" cy="859.0" r="5.2" fill="#808080" stroke="#222" stroke-width="0.8"/>
<rect x="905.2" y="815.6" width="37.299999999999955" height="28.399999999999977" rx="0" fill="#808080" stroke="#222" stroke-width="0.8"/>
<rect x="838" y="782.5" width="67.20000000000005" height="57.200000000000045" rx="0" fill="#808080" stroke="#222" stroke-width="0.8"/>
<line x1="863" y1="839.7" x2="883" y2="839.7" stroke="#222" stroke-width="0.6"/>
<circle cx="875.0" cy="811.5" r="11.4" fill="#fff" stroke="#111" stroke-width="1.1"/>
<text x="874.6" y="818.1" font-size="19" font-weight="bold" text-anchor="middle" fill="#000" stroke="#000" stroke-width="1.3" stroke-linejoin="round">3</text>
<rect x="942.5" y="826.5" width="119.5" height="6.400000000000091" rx="0" fill="#808080" stroke="#222" stroke-width="0.9"/>
<path d="M1061.2,824.0 L1076.6,822.5 L1076.6,837.0 L1061.2,835.6 Z" fill="#808080" stroke="#222" stroke-width="0.9" />
<rect x="1076.6" y="821.3000000000001" width="12.100000000000136" height="17.199999999999932" rx="1" fill="#808080" stroke="#222" stroke-width="0.9"/>
<line x1="1083" y1="821.3000000000001" x2="1083" y2="838.5" stroke="#222" stroke-width="0.8"/>
<path d="M1088.7,822.0 L1100,821.5 L1108,820.0 L1115.3,819.8000000000001 L1118.8,821.0 L1138.5,847.5 L1141,848.1 L1147.5,858.4000000000001 L1145.4,861.9000000000001 L1145.4,864.4000000000001 L1135,870.5 L1133.4,869.6 L1128.2,870.0 L1122.2,859.3000000000001 L1123.9,857.6 L1111,837.0 L1088.7,836.0 Z" fill="#808080" stroke="#222" stroke-width="0.9" />
<line x1="1113.6" y1="828.3000000000001" x2="1111" y2="837.0" stroke="#222" stroke-width="0.7"/>
<line x1="1123.9" y1="857.6" x2="1138.5" y2="849.0" stroke="#222" stroke-width="0.7"/>
<line x1="1132.5" y1="867.9000000000001" x2="1145.4" y2="861.0" stroke="#222" stroke-width="0.7"/>
<circle cx="961.3" cy="628.3" r="10.3" fill="none" stroke="#6a1e30" stroke-width="1.25"/>
<text x="961.3" y="632.8" font-size="12.5" text-anchor="middle" fill="#6a1e30" font-family="Liberation Sans, sans-serif">12</text>
<circle cx="962" cy="719.2" r="10.3" fill="none" stroke="#6a1e30" stroke-width="1.25"/>
<text x="962" y="723.7" font-size="12.5" text-anchor="middle" fill="#6a1e30" font-family="Liberation Sans, sans-serif">13</text>
<circle cx="963.5" cy="809.2" r="10.3" fill="none" stroke="#6a1e30" stroke-width="1.25"/>
<text x="963.5" y="813.7" font-size="12.5" text-anchor="middle" fill="#6a1e30" font-family="Liberation Sans, sans-serif">14</text>
<circle cx="547" cy="756.4" r="10.3" fill="none" stroke="#6a1e30" stroke-width="1.25"/>
<text x="547" y="760.9" font-size="12.5" text-anchor="middle" fill="#6a1e30" font-family="Liberation Sans, sans-serif">15</text>
<rect x="567.6" y="741" width="10.699999999999932" height="28.700000000000045" rx="0" fill="#000" stroke="#000" stroke-width="0.5"/>
<rect x="567.6" y="784" width="9.699999999999932" height="12.600000000000023" rx="0" fill="#c9c9c9" stroke="#333" stroke-width="0.7"/>
<line x1="572.4" y1="784" x2="572.4" y2="796" stroke="#555" stroke-width="0.6"/>
<rect x="569.5" y="796" width="6.0" height="17" rx="0" fill="#c9c9c9" stroke="#333" stroke-width="0.7"/>
<circle cx="572.6" cy="825.4" r="12.4" fill="#c9c9c9" stroke="#333" stroke-width="0.8"/>
<circle cx="572.6" cy="825.4" r="7" fill="#fff" stroke="#333" stroke-width="0.8"/>
<line x1="572.6" y1="837.8" x2="572.6" y2="848.7" stroke="#222" stroke-width="0.9"/>
<line x1="562" y1="848.7" x2="583" y2="848.7" stroke="#222" stroke-width="1.1"/>
<line x1="565" y1="852.5" x2="580" y2="852.5" stroke="#222" stroke-width="1.1"/>
<line x1="568" y1="856.5" x2="577" y2="856.5" stroke="#222" stroke-width="1.3"/>
<line x1="217" y1="259.2" x2="526" y2="228.6" stroke="#b8283f" stroke-width="1.5"/>
<circle cx="524.5" cy="228.8" r="1.8" fill="#c02040" stroke="none" stroke-width="0"/>
<line x1="223.4" y1="351.8" x2="593" y2="309.2" stroke="#b8283f" stroke-width="1.5"/>
<line x1="1092.7" y1="362.5" x2="1006" y2="443.3" stroke="#b83848" stroke-width="1.1"/>
</svg>
</body></html>
